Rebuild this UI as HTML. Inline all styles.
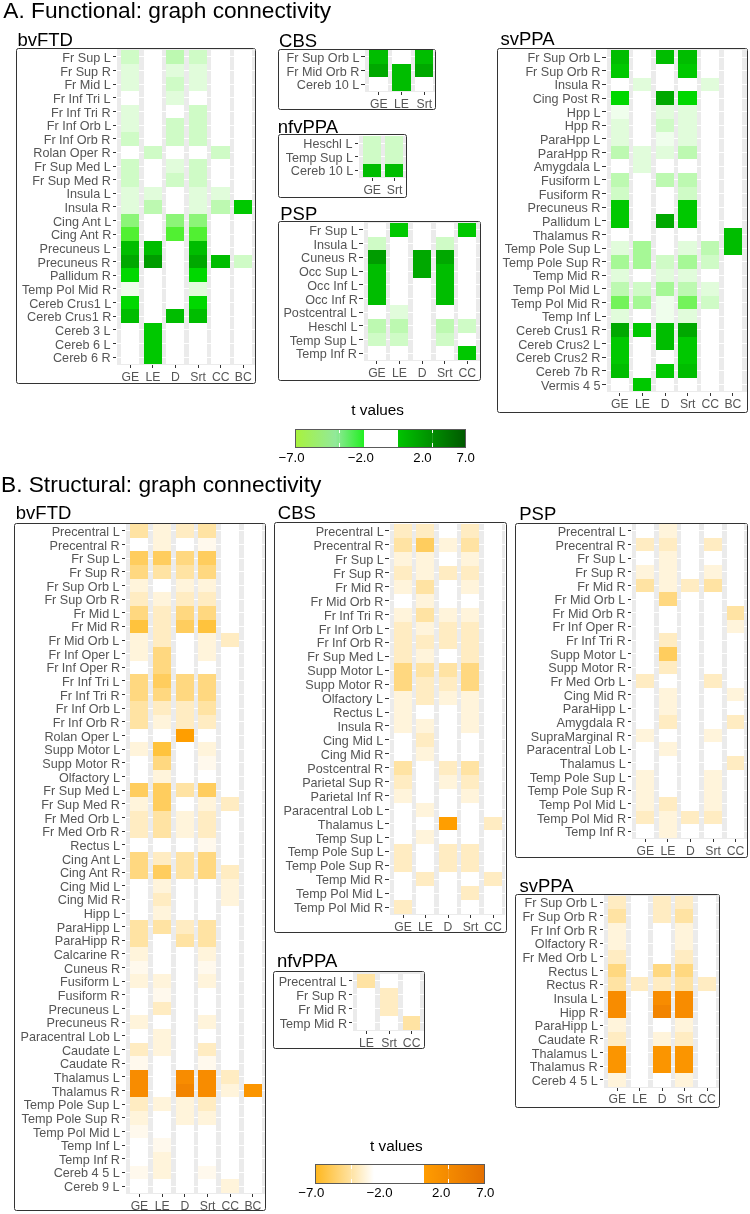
<!DOCTYPE html>
<html><head><meta charset="utf-8"><title>Graph connectivity</title><style>
html,body{margin:0;padding:0;background:#fff;}
body{width:750px;height:1214px;position:relative;overflow:hidden;font-family:"Liberation Sans",sans-serif;}
div{position:absolute;box-sizing:border-box;}
.t{white-space:nowrap;line-height:1;}
.rl{color:#555555;font-size:12.2px;text-align:right;transform:scaleX(1.036);transform-origin:100% 50%;}
.cl{color:#555555;font-size:12.2px;text-align:center;width:40px;}
.pt{color:#000;font-size:18.5px;}
.mt{color:#000;font-size:22.7px;}
.lt{color:#000;font-size:15.3px;}
.bx{border:1.4px solid #333333;border-radius:2.5px;}
.st{background:#ebebeb;}
.tk{background:#333333;}
.gl{background:#fff;}
#wrap{left:0;top:0;width:750px;height:1214px;will-change:transform;}
</style></head><body><div id="wrap">
<div class="t mt" style="left:3.3px;top:-1.22px">A. Functional: graph connectivity</div>
<div class="t mt" style="left:1px;top:472.78px">B. Structural: graph connectivity</div>
<div class="t pt" style="left:17.41px;top:31.34px">bvFTD</div>
<div class="bx" style="left:16.3px;top:48.1px;width:240px;height:336.2px"></div>
<div class="st" style="left:117px;top:49.4px;width:138px;height:315.75px"></div>
<div class="gl" style="left:117px;top:56px;width:138px;height:1px"></div>
<div class="gl" style="left:117px;top:70px;width:138px;height:1px"></div>
<div class="gl" style="left:117px;top:84px;width:138px;height:1px"></div>
<div class="gl" style="left:117px;top:97px;width:138px;height:1px"></div>
<div class="gl" style="left:117px;top:111px;width:138px;height:1px"></div>
<div class="gl" style="left:117px;top:125px;width:138px;height:1px"></div>
<div class="gl" style="left:117px;top:138px;width:138px;height:1px"></div>
<div class="gl" style="left:117px;top:152px;width:138px;height:1px"></div>
<div class="gl" style="left:117px;top:166px;width:138px;height:1px"></div>
<div class="gl" style="left:117px;top:179px;width:138px;height:1px"></div>
<div class="gl" style="left:117px;top:193px;width:138px;height:1px"></div>
<div class="gl" style="left:117px;top:206px;width:138px;height:1px"></div>
<div class="gl" style="left:117px;top:220px;width:138px;height:1px"></div>
<div class="gl" style="left:117px;top:234px;width:138px;height:1px"></div>
<div class="gl" style="left:117px;top:247px;width:138px;height:1px"></div>
<div class="gl" style="left:117px;top:261px;width:138px;height:1px"></div>
<div class="gl" style="left:117px;top:275px;width:138px;height:1px"></div>
<div class="gl" style="left:117px;top:288px;width:138px;height:1px"></div>
<div class="gl" style="left:117px;top:302px;width:138px;height:1px"></div>
<div class="gl" style="left:117px;top:316px;width:138px;height:1px"></div>
<div class="gl" style="left:117px;top:329px;width:138px;height:1px"></div>
<div class="gl" style="left:117px;top:343px;width:138px;height:1px"></div>
<div class="gl" style="left:117px;top:357px;width:138px;height:1px"></div>
<div style="left:121px;top:50px;width:18.2px;height:13.7px;background:#cffbc6"></div>
<div style="left:143.6px;top:50px;width:18.2px;height:13.7px;background:#ffffff"></div>
<div style="left:166.2px;top:50px;width:18.2px;height:13.7px;background:#bdf9b1"></div>
<div style="left:188.8px;top:50px;width:18.2px;height:13.7px;background:#cffbc6"></div>
<div style="left:211.4px;top:50px;width:18.2px;height:13.7px;background:#ffffff"></div>
<div style="left:234px;top:50px;width:18.2px;height:13.7px;background:#ffffff"></div>
<div class="tk" style="left:112.8px;top:56px;width:3.5px;height:1px"></div>
<div class="t rl" style="right:639.2px;top:51.9px">Fr Sup L</div>
<div style="left:121px;top:63.65px;width:18.2px;height:13.7px;background:#e1fcdb"></div>
<div style="left:143.6px;top:63.65px;width:18.2px;height:13.7px;background:#ffffff"></div>
<div style="left:166.2px;top:63.65px;width:18.2px;height:13.7px;background:#e1fcdb"></div>
<div style="left:188.8px;top:63.65px;width:18.2px;height:13.7px;background:#e1fcdb"></div>
<div style="left:211.4px;top:63.65px;width:18.2px;height:13.7px;background:#ffffff"></div>
<div style="left:234px;top:63.65px;width:18.2px;height:13.7px;background:#ffffff"></div>
<div class="tk" style="left:112.8px;top:70px;width:3.5px;height:1px"></div>
<div class="t rl" style="right:639.2px;top:65.55px">Fr Sup R</div>
<div style="left:121px;top:77.3px;width:18.2px;height:13.7px;background:#e1fcdb"></div>
<div style="left:143.6px;top:77.3px;width:18.2px;height:13.7px;background:#ffffff"></div>
<div style="left:166.2px;top:77.3px;width:18.2px;height:13.7px;background:#cffbc6"></div>
<div style="left:188.8px;top:77.3px;width:18.2px;height:13.7px;background:#e1fcdb"></div>
<div style="left:211.4px;top:77.3px;width:18.2px;height:13.7px;background:#ffffff"></div>
<div style="left:234px;top:77.3px;width:18.2px;height:13.7px;background:#ffffff"></div>
<div class="tk" style="left:112.8px;top:84px;width:3.5px;height:1px"></div>
<div class="t rl" style="right:639.2px;top:79.2px">Fr Mid L</div>
<div style="left:121px;top:90.95px;width:18.2px;height:13.7px;background:#ffffff"></div>
<div style="left:143.6px;top:90.95px;width:18.2px;height:13.7px;background:#ffffff"></div>
<div style="left:166.2px;top:90.95px;width:18.2px;height:13.7px;background:#e1fcdb"></div>
<div style="left:188.8px;top:90.95px;width:18.2px;height:13.7px;background:#ffffff"></div>
<div style="left:211.4px;top:90.95px;width:18.2px;height:13.7px;background:#ffffff"></div>
<div style="left:234px;top:90.95px;width:18.2px;height:13.7px;background:#ffffff"></div>
<div class="tk" style="left:112.8px;top:97px;width:3.5px;height:1px"></div>
<div class="t rl" style="right:639.2px;top:92.85px">Fr Inf Tri L</div>
<div style="left:121px;top:104.6px;width:18.2px;height:13.7px;background:#e1fcdb"></div>
<div style="left:143.6px;top:104.6px;width:18.2px;height:13.7px;background:#ffffff"></div>
<div style="left:166.2px;top:104.6px;width:18.2px;height:13.7px;background:#ffffff"></div>
<div style="left:188.8px;top:104.6px;width:18.2px;height:13.7px;background:#cffbc6"></div>
<div style="left:211.4px;top:104.6px;width:18.2px;height:13.7px;background:#ffffff"></div>
<div style="left:234px;top:104.6px;width:18.2px;height:13.7px;background:#ffffff"></div>
<div class="tk" style="left:112.8px;top:111px;width:3.5px;height:1px"></div>
<div class="t rl" style="right:639.2px;top:106.5px">Fr Inf Tri R</div>
<div style="left:121px;top:118.25px;width:18.2px;height:13.7px;background:#e1fcdb"></div>
<div style="left:143.6px;top:118.25px;width:18.2px;height:13.7px;background:#ffffff"></div>
<div style="left:166.2px;top:118.25px;width:18.2px;height:13.7px;background:#cffbc6"></div>
<div style="left:188.8px;top:118.25px;width:18.2px;height:13.7px;background:#cffbc6"></div>
<div style="left:211.4px;top:118.25px;width:18.2px;height:13.7px;background:#ffffff"></div>
<div style="left:234px;top:118.25px;width:18.2px;height:13.7px;background:#ffffff"></div>
<div class="tk" style="left:112.8px;top:125px;width:3.5px;height:1px"></div>
<div class="t rl" style="right:639.2px;top:120.15px">Fr Inf Orb L</div>
<div style="left:121px;top:131.9px;width:18.2px;height:13.7px;background:#cffbc6"></div>
<div style="left:143.6px;top:131.9px;width:18.2px;height:13.7px;background:#ffffff"></div>
<div style="left:166.2px;top:131.9px;width:18.2px;height:13.7px;background:#cffbc6"></div>
<div style="left:188.8px;top:131.9px;width:18.2px;height:13.7px;background:#cffbc6"></div>
<div style="left:211.4px;top:131.9px;width:18.2px;height:13.7px;background:#ffffff"></div>
<div style="left:234px;top:131.9px;width:18.2px;height:13.7px;background:#ffffff"></div>
<div class="tk" style="left:112.8px;top:138px;width:3.5px;height:1px"></div>
<div class="t rl" style="right:639.2px;top:133.8px">Fr Inf Orb R</div>
<div style="left:121px;top:145.55px;width:18.2px;height:13.7px;background:#ffffff"></div>
<div style="left:143.6px;top:145.55px;width:18.2px;height:13.7px;background:#cffbc6"></div>
<div style="left:166.2px;top:145.55px;width:18.2px;height:13.7px;background:#ffffff"></div>
<div style="left:188.8px;top:145.55px;width:18.2px;height:13.7px;background:#ffffff"></div>
<div style="left:211.4px;top:145.55px;width:18.2px;height:13.7px;background:#cffbc6"></div>
<div style="left:234px;top:145.55px;width:18.2px;height:13.7px;background:#ffffff"></div>
<div class="tk" style="left:112.8px;top:152px;width:3.5px;height:1px"></div>
<div class="t rl" style="right:639.2px;top:147.45px">Rolan Oper R</div>
<div style="left:121px;top:159.2px;width:18.2px;height:13.7px;background:#cffbc6"></div>
<div style="left:143.6px;top:159.2px;width:18.2px;height:13.7px;background:#ffffff"></div>
<div style="left:166.2px;top:159.2px;width:18.2px;height:13.7px;background:#e1fcdb"></div>
<div style="left:188.8px;top:159.2px;width:18.2px;height:13.7px;background:#cffbc6"></div>
<div style="left:211.4px;top:159.2px;width:18.2px;height:13.7px;background:#ffffff"></div>
<div style="left:234px;top:159.2px;width:18.2px;height:13.7px;background:#ffffff"></div>
<div class="tk" style="left:112.8px;top:166px;width:3.5px;height:1px"></div>
<div class="t rl" style="right:639.2px;top:161.1px">Fr Sup Med L</div>
<div style="left:121px;top:172.85px;width:18.2px;height:13.7px;background:#cffbc6"></div>
<div style="left:143.6px;top:172.85px;width:18.2px;height:13.7px;background:#ffffff"></div>
<div style="left:166.2px;top:172.85px;width:18.2px;height:13.7px;background:#cffbc6"></div>
<div style="left:188.8px;top:172.85px;width:18.2px;height:13.7px;background:#cffbc6"></div>
<div style="left:211.4px;top:172.85px;width:18.2px;height:13.7px;background:#ffffff"></div>
<div style="left:234px;top:172.85px;width:18.2px;height:13.7px;background:#ffffff"></div>
<div class="tk" style="left:112.8px;top:179px;width:3.5px;height:1px"></div>
<div class="t rl" style="right:639.2px;top:174.75px">Fr Sup Med R</div>
<div style="left:121px;top:186.5px;width:18.2px;height:13.7px;background:#e1fcdb"></div>
<div style="left:143.6px;top:186.5px;width:18.2px;height:13.7px;background:#e1fcdb"></div>
<div style="left:166.2px;top:186.5px;width:18.2px;height:13.7px;background:#ffffff"></div>
<div style="left:188.8px;top:186.5px;width:18.2px;height:13.7px;background:#e1fcdb"></div>
<div style="left:211.4px;top:186.5px;width:18.2px;height:13.7px;background:#e1fcdb"></div>
<div style="left:234px;top:186.5px;width:18.2px;height:13.7px;background:#ffffff"></div>
<div class="tk" style="left:112.8px;top:193px;width:3.5px;height:1px"></div>
<div class="t rl" style="right:639.2px;top:188.4px">Insula L</div>
<div style="left:121px;top:200.15px;width:18.2px;height:13.7px;background:#e1fcdb"></div>
<div style="left:143.6px;top:200.15px;width:18.2px;height:13.7px;background:#bdf9b1"></div>
<div style="left:166.2px;top:200.15px;width:18.2px;height:13.7px;background:#ffffff"></div>
<div style="left:188.8px;top:200.15px;width:18.2px;height:13.7px;background:#e1fcdb"></div>
<div style="left:211.4px;top:200.15px;width:18.2px;height:13.7px;background:#bdf9b1"></div>
<div style="left:234px;top:200.15px;width:18.2px;height:13.7px;background:#00c800"></div>
<div class="tk" style="left:112.8px;top:206px;width:3.5px;height:1px"></div>
<div class="t rl" style="right:639.2px;top:202.05px">Insula R</div>
<div style="left:121px;top:213.8px;width:18.2px;height:13.7px;background:#8cf578"></div>
<div style="left:143.6px;top:213.8px;width:18.2px;height:13.7px;background:#ffffff"></div>
<div style="left:166.2px;top:213.8px;width:18.2px;height:13.7px;background:#8cf578"></div>
<div style="left:188.8px;top:213.8px;width:18.2px;height:13.7px;background:#8cf578"></div>
<div style="left:211.4px;top:213.8px;width:18.2px;height:13.7px;background:#ffffff"></div>
<div style="left:234px;top:213.8px;width:18.2px;height:13.7px;background:#ffffff"></div>
<div class="tk" style="left:112.8px;top:220px;width:3.5px;height:1px"></div>
<div class="t rl" style="right:639.2px;top:215.7px">Cing Ant L</div>
<div style="left:121px;top:227.45px;width:18.2px;height:13.7px;background:#51f032"></div>
<div style="left:143.6px;top:227.45px;width:18.2px;height:13.7px;background:#ffffff"></div>
<div style="left:166.2px;top:227.45px;width:18.2px;height:13.7px;background:#51f032"></div>
<div style="left:188.8px;top:227.45px;width:18.2px;height:13.7px;background:#51f032"></div>
<div style="left:211.4px;top:227.45px;width:18.2px;height:13.7px;background:#ffffff"></div>
<div style="left:234px;top:227.45px;width:18.2px;height:13.7px;background:#ffffff"></div>
<div class="tk" style="left:112.8px;top:234px;width:3.5px;height:1px"></div>
<div class="t rl" style="right:639.2px;top:229.35px">Cing Ant R</div>
<div style="left:121px;top:241.1px;width:18.2px;height:13.7px;background:#00bd00"></div>
<div style="left:143.6px;top:241.1px;width:18.2px;height:13.7px;background:#00bd00"></div>
<div style="left:166.2px;top:241.1px;width:18.2px;height:13.7px;background:#ffffff"></div>
<div style="left:188.8px;top:241.1px;width:18.2px;height:13.7px;background:#00bd00"></div>
<div style="left:211.4px;top:241.1px;width:18.2px;height:13.7px;background:#ffffff"></div>
<div style="left:234px;top:241.1px;width:18.2px;height:13.7px;background:#ffffff"></div>
<div class="tk" style="left:112.8px;top:247px;width:3.5px;height:1px"></div>
<div class="t rl" style="right:639.2px;top:243px">Precuneus L</div>
<div style="left:121px;top:254.75px;width:18.2px;height:13.7px;background:#00a800"></div>
<div style="left:143.6px;top:254.75px;width:18.2px;height:13.7px;background:#009c00"></div>
<div style="left:166.2px;top:254.75px;width:18.2px;height:13.7px;background:#ffffff"></div>
<div style="left:188.8px;top:254.75px;width:18.2px;height:13.7px;background:#00a800"></div>
<div style="left:211.4px;top:254.75px;width:18.2px;height:13.7px;background:#00bd00"></div>
<div style="left:234px;top:254.75px;width:18.2px;height:13.7px;background:#cffbc6"></div>
<div class="tk" style="left:112.8px;top:261px;width:3.5px;height:1px"></div>
<div class="t rl" style="right:639.2px;top:256.65px">Precuneus R</div>
<div style="left:121px;top:268.4px;width:18.2px;height:13.7px;background:#00d800"></div>
<div style="left:143.6px;top:268.4px;width:18.2px;height:13.7px;background:#ffffff"></div>
<div style="left:166.2px;top:268.4px;width:18.2px;height:13.7px;background:#ffffff"></div>
<div style="left:188.8px;top:268.4px;width:18.2px;height:13.7px;background:#00d800"></div>
<div style="left:211.4px;top:268.4px;width:18.2px;height:13.7px;background:#ffffff"></div>
<div style="left:234px;top:268.4px;width:18.2px;height:13.7px;background:#ffffff"></div>
<div class="tk" style="left:112.8px;top:275px;width:3.5px;height:1px"></div>
<div class="t rl" style="right:639.2px;top:270.3px">Pallidum R</div>
<div style="left:121px;top:282.05px;width:18.2px;height:13.7px;background:#effeec"></div>
<div style="left:143.6px;top:282.05px;width:18.2px;height:13.7px;background:#ffffff"></div>
<div style="left:166.2px;top:282.05px;width:18.2px;height:13.7px;background:#ffffff"></div>
<div style="left:188.8px;top:282.05px;width:18.2px;height:13.7px;background:#e1fcdb"></div>
<div style="left:211.4px;top:282.05px;width:18.2px;height:13.7px;background:#ffffff"></div>
<div style="left:234px;top:282.05px;width:18.2px;height:13.7px;background:#ffffff"></div>
<div class="tk" style="left:112.8px;top:288px;width:3.5px;height:1px"></div>
<div class="t rl" style="right:639.2px;top:283.95px">Temp Pol Mid R</div>
<div style="left:121px;top:295.7px;width:18.2px;height:13.7px;background:#00d800"></div>
<div style="left:143.6px;top:295.7px;width:18.2px;height:13.7px;background:#ffffff"></div>
<div style="left:166.2px;top:295.7px;width:18.2px;height:13.7px;background:#ffffff"></div>
<div style="left:188.8px;top:295.7px;width:18.2px;height:13.7px;background:#00d800"></div>
<div style="left:211.4px;top:295.7px;width:18.2px;height:13.7px;background:#ffffff"></div>
<div style="left:234px;top:295.7px;width:18.2px;height:13.7px;background:#ffffff"></div>
<div class="tk" style="left:112.8px;top:302px;width:3.5px;height:1px"></div>
<div class="t rl" style="right:639.2px;top:297.6px">Cereb Crus1 L</div>
<div style="left:121px;top:309.35px;width:18.2px;height:13.7px;background:#00bd00"></div>
<div style="left:143.6px;top:309.35px;width:18.2px;height:13.7px;background:#ffffff"></div>
<div style="left:166.2px;top:309.35px;width:18.2px;height:13.7px;background:#00bd00"></div>
<div style="left:188.8px;top:309.35px;width:18.2px;height:13.7px;background:#00bd00"></div>
<div style="left:211.4px;top:309.35px;width:18.2px;height:13.7px;background:#ffffff"></div>
<div style="left:234px;top:309.35px;width:18.2px;height:13.7px;background:#ffffff"></div>
<div class="tk" style="left:112.8px;top:316px;width:3.5px;height:1px"></div>
<div class="t rl" style="right:639.2px;top:311.25px">Cereb Crus1 R</div>
<div style="left:121px;top:323px;width:18.2px;height:13.7px;background:#ffffff"></div>
<div style="left:143.6px;top:323px;width:18.2px;height:13.7px;background:#00c800"></div>
<div style="left:166.2px;top:323px;width:18.2px;height:13.7px;background:#ffffff"></div>
<div style="left:188.8px;top:323px;width:18.2px;height:13.7px;background:#ffffff"></div>
<div style="left:211.4px;top:323px;width:18.2px;height:13.7px;background:#ffffff"></div>
<div style="left:234px;top:323px;width:18.2px;height:13.7px;background:#ffffff"></div>
<div class="tk" style="left:112.8px;top:329px;width:3.5px;height:1px"></div>
<div class="t rl" style="right:639.2px;top:324.9px">Cereb 3 L</div>
<div style="left:121px;top:336.65px;width:18.2px;height:13.7px;background:#ffffff"></div>
<div style="left:143.6px;top:336.65px;width:18.2px;height:13.7px;background:#00c800"></div>
<div style="left:166.2px;top:336.65px;width:18.2px;height:13.7px;background:#ffffff"></div>
<div style="left:188.8px;top:336.65px;width:18.2px;height:13.7px;background:#ffffff"></div>
<div style="left:211.4px;top:336.65px;width:18.2px;height:13.7px;background:#ffffff"></div>
<div style="left:234px;top:336.65px;width:18.2px;height:13.7px;background:#ffffff"></div>
<div class="tk" style="left:112.8px;top:343px;width:3.5px;height:1px"></div>
<div class="t rl" style="right:639.2px;top:338.55px">Cereb 6 L</div>
<div style="left:121px;top:350.3px;width:18.2px;height:13.7px;background:#ffffff"></div>
<div style="left:143.6px;top:350.3px;width:18.2px;height:13.7px;background:#00c800"></div>
<div style="left:166.2px;top:350.3px;width:18.2px;height:13.7px;background:#ffffff"></div>
<div style="left:188.8px;top:350.3px;width:18.2px;height:13.7px;background:#ffffff"></div>
<div style="left:211.4px;top:350.3px;width:18.2px;height:13.7px;background:#ffffff"></div>
<div style="left:234px;top:350.3px;width:18.2px;height:13.7px;background:#ffffff"></div>
<div class="tk" style="left:112.8px;top:357px;width:3.5px;height:1px"></div>
<div class="t rl" style="right:639.2px;top:352.2px">Cereb 6 R</div>
<div class="tk" style="left:130px;top:365.15px;width:1px;height:3px"></div>
<div class="t cl" style="left:110.3px;top:370.62px;width:40px;text-align:center">GE</div>
<div class="tk" style="left:152px;top:365.15px;width:1px;height:3px"></div>
<div class="t cl" style="left:132.9px;top:370.62px;width:40px;text-align:center">LE</div>
<div class="tk" style="left:175px;top:365.15px;width:1px;height:3px"></div>
<div class="t cl" style="left:155.5px;top:370.62px;width:40px;text-align:center">D</div>
<div class="tk" style="left:198px;top:365.15px;width:1px;height:3px"></div>
<div class="t cl" style="left:178.1px;top:370.62px;width:40px;text-align:center">Srt</div>
<div class="tk" style="left:220px;top:365.15px;width:1px;height:3px"></div>
<div class="t cl" style="left:200.7px;top:370.62px;width:40px;text-align:center">CC</div>
<div class="tk" style="left:243px;top:365.15px;width:1px;height:3px"></div>
<div class="t cl" style="left:223.3px;top:370.62px;width:40px;text-align:center">BC</div>
<div class="t pt" style="left:279.06px;top:31.64px">CBS</div>
<div class="bx" style="left:277.7px;top:48.7px;width:158.7px;height:60.9px"></div>
<div class="st" style="left:365.4px;top:50px;width:69.7px;height:42.21px"></div>
<div class="gl" style="left:365.4px;top:56px;width:69.7px;height:1px"></div>
<div class="gl" style="left:365.4px;top:70px;width:69.7px;height:1px"></div>
<div class="gl" style="left:365.4px;top:84px;width:69.7px;height:1px"></div>
<div style="left:369.3px;top:50px;width:18.5px;height:13.72px;background:#00bd00"></div>
<div style="left:392.1px;top:50px;width:18.5px;height:13.72px;background:#ffffff"></div>
<div style="left:414.9px;top:50px;width:18.5px;height:13.72px;background:#00bd00"></div>
<div class="tk" style="left:361.2px;top:56px;width:3.5px;height:1px"></div>
<div class="t rl" style="right:390.8px;top:51.91px">Fr Sup Orb L</div>
<div style="left:369.3px;top:63.67px;width:18.5px;height:13.72px;background:#00a800"></div>
<div style="left:392.1px;top:63.67px;width:18.5px;height:13.72px;background:#00bd00"></div>
<div style="left:414.9px;top:63.67px;width:18.5px;height:13.72px;background:#00a800"></div>
<div class="tk" style="left:361.2px;top:70px;width:3.5px;height:1px"></div>
<div class="t rl" style="right:390.8px;top:65.58px">Fr Mid Orb R</div>
<div style="left:369.3px;top:77.34px;width:18.5px;height:13.72px;background:#ffffff"></div>
<div style="left:392.1px;top:77.34px;width:18.5px;height:13.72px;background:#00bd00"></div>
<div style="left:414.9px;top:77.34px;width:18.5px;height:13.72px;background:#ffffff"></div>
<div class="tk" style="left:361.2px;top:84px;width:3.5px;height:1px"></div>
<div class="t rl" style="right:390.8px;top:79.25px">Cereb 10 L</div>
<div class="tk" style="left:378px;top:92.21px;width:1px;height:3px"></div>
<div class="t cl" style="left:358.75px;top:97.68px;width:40px;text-align:center">GE</div>
<div class="tk" style="left:401px;top:92.21px;width:1px;height:3px"></div>
<div class="t cl" style="left:381.55px;top:97.68px;width:40px;text-align:center">LE</div>
<div class="tk" style="left:424px;top:92.21px;width:1px;height:3px"></div>
<div class="t cl" style="left:404.35px;top:97.68px;width:40px;text-align:center">Srt</div>
<div class="t pt" style="left:277.77px;top:117.54px">nfvPPA</div>
<div class="bx" style="left:277.7px;top:134.2px;width:129.8px;height:63.4px"></div>
<div class="st" style="left:359px;top:135.5px;width:47.2px;height:42.85px"></div>
<div class="gl" style="left:359px;top:143px;width:47.2px;height:1px"></div>
<div class="gl" style="left:359px;top:156px;width:47.2px;height:1px"></div>
<div class="gl" style="left:359px;top:170px;width:47.2px;height:1px"></div>
<div style="left:363px;top:136.2px;width:18px;height:13.7px;background:#cffbc6"></div>
<div style="left:385.4px;top:136.2px;width:18px;height:13.7px;background:#cffbc6"></div>
<div class="tk" style="left:354.8px;top:143px;width:3.5px;height:1px"></div>
<div class="t rl" style="right:397.2px;top:138.1px">Heschl L</div>
<div style="left:363px;top:149.85px;width:18px;height:13.7px;background:#cffbc6"></div>
<div style="left:385.4px;top:149.85px;width:18px;height:13.7px;background:#cffbc6"></div>
<div class="tk" style="left:354.8px;top:156px;width:3.5px;height:1px"></div>
<div class="t rl" style="right:397.2px;top:151.75px">Temp Sup L</div>
<div style="left:363px;top:163.5px;width:18px;height:13.7px;background:#00bd00"></div>
<div style="left:385.4px;top:163.5px;width:18px;height:13.7px;background:#00bd00"></div>
<div class="tk" style="left:354.8px;top:170px;width:3.5px;height:1px"></div>
<div class="t rl" style="right:397.2px;top:165.4px">Cereb 10 L</div>
<div class="tk" style="left:372px;top:178.35px;width:1px;height:3px"></div>
<div class="t cl" style="left:352.2px;top:183.82px;width:40px;text-align:center">GE</div>
<div class="tk" style="left:394px;top:178.35px;width:1px;height:3px"></div>
<div class="t cl" style="left:374.6px;top:183.82px;width:40px;text-align:center">Srt</div>
<div class="t pt" style="left:280.28px;top:205.14px">PSP</div>
<div class="bx" style="left:277.5px;top:221px;width:203.8px;height:159.5px"></div>
<div class="st" style="left:363.6px;top:222.3px;width:116.4px;height:139.1px"></div>
<div class="gl" style="left:363.6px;top:229px;width:116.4px;height:1px"></div>
<div class="gl" style="left:363.6px;top:243px;width:116.4px;height:1px"></div>
<div class="gl" style="left:363.6px;top:257px;width:116.4px;height:1px"></div>
<div class="gl" style="left:363.6px;top:271px;width:116.4px;height:1px"></div>
<div class="gl" style="left:363.6px;top:284px;width:116.4px;height:1px"></div>
<div class="gl" style="left:363.6px;top:298px;width:116.4px;height:1px"></div>
<div class="gl" style="left:363.6px;top:312px;width:116.4px;height:1px"></div>
<div class="gl" style="left:363.6px;top:325px;width:116.4px;height:1px"></div>
<div class="gl" style="left:363.6px;top:339px;width:116.4px;height:1px"></div>
<div class="gl" style="left:363.6px;top:353px;width:116.4px;height:1px"></div>
<div style="left:367.7px;top:223px;width:18.1px;height:13.77px;background:#ffffff"></div>
<div style="left:390.3px;top:223px;width:18.1px;height:13.77px;background:#00c800"></div>
<div style="left:412.9px;top:223px;width:18.1px;height:13.77px;background:#ffffff"></div>
<div style="left:435.5px;top:223px;width:18.1px;height:13.77px;background:#ffffff"></div>
<div style="left:458.1px;top:223px;width:18.1px;height:13.77px;background:#00c800"></div>
<div class="tk" style="left:359.4px;top:229px;width:3.5px;height:1px"></div>
<div class="t rl" style="right:392.6px;top:224.93px">Fr Sup L</div>
<div style="left:367.7px;top:236.72px;width:18.1px;height:13.77px;background:#cffbc6"></div>
<div style="left:390.3px;top:236.72px;width:18.1px;height:13.77px;background:#ffffff"></div>
<div style="left:412.9px;top:236.72px;width:18.1px;height:13.77px;background:#ffffff"></div>
<div style="left:435.5px;top:236.72px;width:18.1px;height:13.77px;background:#cffbc6"></div>
<div style="left:458.1px;top:236.72px;width:18.1px;height:13.77px;background:#ffffff"></div>
<div class="tk" style="left:359.4px;top:243px;width:3.5px;height:1px"></div>
<div class="t rl" style="right:392.6px;top:238.65px">Insula L</div>
<div style="left:367.7px;top:250.44px;width:18.1px;height:13.77px;background:#009c00"></div>
<div style="left:390.3px;top:250.44px;width:18.1px;height:13.77px;background:#ffffff"></div>
<div style="left:412.9px;top:250.44px;width:18.1px;height:13.77px;background:#00a800"></div>
<div style="left:435.5px;top:250.44px;width:18.1px;height:13.77px;background:#00a800"></div>
<div style="left:458.1px;top:250.44px;width:18.1px;height:13.77px;background:#ffffff"></div>
<div class="tk" style="left:359.4px;top:257px;width:3.5px;height:1px"></div>
<div class="t rl" style="right:392.6px;top:252.37px">Cuneus R</div>
<div style="left:367.7px;top:264.16px;width:18.1px;height:13.77px;background:#00bd00"></div>
<div style="left:390.3px;top:264.16px;width:18.1px;height:13.77px;background:#ffffff"></div>
<div style="left:412.9px;top:264.16px;width:18.1px;height:13.77px;background:#00a800"></div>
<div style="left:435.5px;top:264.16px;width:18.1px;height:13.77px;background:#00bd00"></div>
<div style="left:458.1px;top:264.16px;width:18.1px;height:13.77px;background:#ffffff"></div>
<div class="tk" style="left:359.4px;top:271px;width:3.5px;height:1px"></div>
<div class="t rl" style="right:392.6px;top:266.09px">Occ Sup L</div>
<div style="left:367.7px;top:277.88px;width:18.1px;height:13.77px;background:#00bd00"></div>
<div style="left:390.3px;top:277.88px;width:18.1px;height:13.77px;background:#ffffff"></div>
<div style="left:412.9px;top:277.88px;width:18.1px;height:13.77px;background:#ffffff"></div>
<div style="left:435.5px;top:277.88px;width:18.1px;height:13.77px;background:#00bd00"></div>
<div style="left:458.1px;top:277.88px;width:18.1px;height:13.77px;background:#ffffff"></div>
<div class="tk" style="left:359.4px;top:284px;width:3.5px;height:1px"></div>
<div class="t rl" style="right:392.6px;top:279.81px">Occ Inf L</div>
<div style="left:367.7px;top:291.6px;width:18.1px;height:13.77px;background:#00bd00"></div>
<div style="left:390.3px;top:291.6px;width:18.1px;height:13.77px;background:#ffffff"></div>
<div style="left:412.9px;top:291.6px;width:18.1px;height:13.77px;background:#ffffff"></div>
<div style="left:435.5px;top:291.6px;width:18.1px;height:13.77px;background:#00bd00"></div>
<div style="left:458.1px;top:291.6px;width:18.1px;height:13.77px;background:#ffffff"></div>
<div class="tk" style="left:359.4px;top:298px;width:3.5px;height:1px"></div>
<div class="t rl" style="right:392.6px;top:293.53px">Occ Inf R</div>
<div style="left:367.7px;top:305.32px;width:18.1px;height:13.77px;background:#ffffff"></div>
<div style="left:390.3px;top:305.32px;width:18.1px;height:13.77px;background:#e1fcdb"></div>
<div style="left:412.9px;top:305.32px;width:18.1px;height:13.77px;background:#ffffff"></div>
<div style="left:435.5px;top:305.32px;width:18.1px;height:13.77px;background:#ffffff"></div>
<div style="left:458.1px;top:305.32px;width:18.1px;height:13.77px;background:#ffffff"></div>
<div class="tk" style="left:359.4px;top:312px;width:3.5px;height:1px"></div>
<div class="t rl" style="right:392.6px;top:307.25px">Postcentral L</div>
<div style="left:367.7px;top:319.04px;width:18.1px;height:13.77px;background:#bdf9b1"></div>
<div style="left:390.3px;top:319.04px;width:18.1px;height:13.77px;background:#bdf9b1"></div>
<div style="left:412.9px;top:319.04px;width:18.1px;height:13.77px;background:#ffffff"></div>
<div style="left:435.5px;top:319.04px;width:18.1px;height:13.77px;background:#bdf9b1"></div>
<div style="left:458.1px;top:319.04px;width:18.1px;height:13.77px;background:#cffbc6"></div>
<div class="tk" style="left:359.4px;top:325px;width:3.5px;height:1px"></div>
<div class="t rl" style="right:392.6px;top:320.97px">Heschl L</div>
<div style="left:367.7px;top:332.76px;width:18.1px;height:13.77px;background:#cffbc6"></div>
<div style="left:390.3px;top:332.76px;width:18.1px;height:13.77px;background:#cffbc6"></div>
<div style="left:412.9px;top:332.76px;width:18.1px;height:13.77px;background:#ffffff"></div>
<div style="left:435.5px;top:332.76px;width:18.1px;height:13.77px;background:#cffbc6"></div>
<div style="left:458.1px;top:332.76px;width:18.1px;height:13.77px;background:#ffffff"></div>
<div class="tk" style="left:359.4px;top:339px;width:3.5px;height:1px"></div>
<div class="t rl" style="right:392.6px;top:334.69px">Temp Sup L</div>
<div style="left:367.7px;top:346.48px;width:18.1px;height:13.77px;background:#ffffff"></div>
<div style="left:390.3px;top:346.48px;width:18.1px;height:13.77px;background:#ffffff"></div>
<div style="left:412.9px;top:346.48px;width:18.1px;height:13.77px;background:#ffffff"></div>
<div style="left:435.5px;top:346.48px;width:18.1px;height:13.77px;background:#ffffff"></div>
<div style="left:458.1px;top:346.48px;width:18.1px;height:13.77px;background:#00c800"></div>
<div class="tk" style="left:359.4px;top:353px;width:3.5px;height:1px"></div>
<div class="t rl" style="right:392.6px;top:348.41px">Temp Inf R</div>
<div class="tk" style="left:376px;top:361.4px;width:1px;height:3px"></div>
<div class="t cl" style="left:356.95px;top:366.87px;width:40px;text-align:center">GE</div>
<div class="tk" style="left:399px;top:361.4px;width:1px;height:3px"></div>
<div class="t cl" style="left:379.55px;top:366.87px;width:40px;text-align:center">LE</div>
<div class="tk" style="left:422px;top:361.4px;width:1px;height:3px"></div>
<div class="t cl" style="left:402.15px;top:366.87px;width:40px;text-align:center">D</div>
<div class="tk" style="left:444px;top:361.4px;width:1px;height:3px"></div>
<div class="t cl" style="left:424.75px;top:366.87px;width:40px;text-align:center">Srt</div>
<div class="tk" style="left:467px;top:361.4px;width:1px;height:3px"></div>
<div class="t cl" style="left:447.35px;top:366.87px;width:40px;text-align:center">CC</div>
<div class="t pt" style="left:500.39px;top:30.14px">svPPA</div>
<div class="bx" style="left:496.9px;top:47.6px;width:251.1px;height:365.1px"></div>
<div class="st" style="left:606.6px;top:48.9px;width:140.1px;height:343.6px"></div>
<div class="gl" style="left:606.6px;top:57px;width:140.1px;height:1px"></div>
<div class="gl" style="left:606.6px;top:70px;width:140.1px;height:1px"></div>
<div class="gl" style="left:606.6px;top:84px;width:140.1px;height:1px"></div>
<div class="gl" style="left:606.6px;top:98px;width:140.1px;height:1px"></div>
<div class="gl" style="left:606.6px;top:111px;width:140.1px;height:1px"></div>
<div class="gl" style="left:606.6px;top:125px;width:140.1px;height:1px"></div>
<div class="gl" style="left:606.6px;top:138px;width:140.1px;height:1px"></div>
<div class="gl" style="left:606.6px;top:152px;width:140.1px;height:1px"></div>
<div class="gl" style="left:606.6px;top:166px;width:140.1px;height:1px"></div>
<div class="gl" style="left:606.6px;top:179px;width:140.1px;height:1px"></div>
<div class="gl" style="left:606.6px;top:193px;width:140.1px;height:1px"></div>
<div class="gl" style="left:606.6px;top:207px;width:140.1px;height:1px"></div>
<div class="gl" style="left:606.6px;top:220px;width:140.1px;height:1px"></div>
<div class="gl" style="left:606.6px;top:234px;width:140.1px;height:1px"></div>
<div class="gl" style="left:606.6px;top:248px;width:140.1px;height:1px"></div>
<div class="gl" style="left:606.6px;top:261px;width:140.1px;height:1px"></div>
<div class="gl" style="left:606.6px;top:275px;width:140.1px;height:1px"></div>
<div class="gl" style="left:606.6px;top:288px;width:140.1px;height:1px"></div>
<div class="gl" style="left:606.6px;top:302px;width:140.1px;height:1px"></div>
<div class="gl" style="left:606.6px;top:316px;width:140.1px;height:1px"></div>
<div class="gl" style="left:606.6px;top:329px;width:140.1px;height:1px"></div>
<div class="gl" style="left:606.6px;top:343px;width:140.1px;height:1px"></div>
<div class="gl" style="left:606.6px;top:357px;width:140.1px;height:1px"></div>
<div class="gl" style="left:606.6px;top:370px;width:140.1px;height:1px"></div>
<div class="gl" style="left:606.6px;top:384px;width:140.1px;height:1px"></div>
<div style="left:610.6px;top:50.3px;width:18.2px;height:13.69px;background:#00bd00"></div>
<div style="left:633.2px;top:50.3px;width:18.2px;height:13.69px;background:#ffffff"></div>
<div style="left:655.8px;top:50.3px;width:18.2px;height:13.69px;background:#00bd00"></div>
<div style="left:678.4px;top:50.3px;width:18.2px;height:13.69px;background:#00bd00"></div>
<div style="left:701px;top:50.3px;width:18.2px;height:13.69px;background:#ffffff"></div>
<div style="left:723.6px;top:50.3px;width:18.2px;height:13.69px;background:#ffffff"></div>
<div class="tk" style="left:602.4px;top:57px;width:3.5px;height:1px"></div>
<div class="t rl" style="right:149.6px;top:52.19px">Fr Sup Orb L</div>
<div style="left:610.6px;top:63.94px;width:18.2px;height:13.69px;background:#00c800"></div>
<div style="left:633.2px;top:63.94px;width:18.2px;height:13.69px;background:#ffffff"></div>
<div style="left:655.8px;top:63.94px;width:18.2px;height:13.69px;background:#ffffff"></div>
<div style="left:678.4px;top:63.94px;width:18.2px;height:13.69px;background:#00c800"></div>
<div style="left:701px;top:63.94px;width:18.2px;height:13.69px;background:#ffffff"></div>
<div style="left:723.6px;top:63.94px;width:18.2px;height:13.69px;background:#ffffff"></div>
<div class="tk" style="left:602.4px;top:70px;width:3.5px;height:1px"></div>
<div class="t rl" style="right:149.6px;top:65.83px">Fr Sup Orb R</div>
<div style="left:610.6px;top:77.58px;width:18.2px;height:13.69px;background:#ffffff"></div>
<div style="left:633.2px;top:77.58px;width:18.2px;height:13.69px;background:#e1fcdb"></div>
<div style="left:655.8px;top:77.58px;width:18.2px;height:13.69px;background:#ffffff"></div>
<div style="left:678.4px;top:77.58px;width:18.2px;height:13.69px;background:#ffffff"></div>
<div style="left:701px;top:77.58px;width:18.2px;height:13.69px;background:#e1fcdb"></div>
<div style="left:723.6px;top:77.58px;width:18.2px;height:13.69px;background:#ffffff"></div>
<div class="tk" style="left:602.4px;top:84px;width:3.5px;height:1px"></div>
<div class="t rl" style="right:149.6px;top:79.47px">Insula R</div>
<div style="left:610.6px;top:91.22px;width:18.2px;height:13.69px;background:#00d800"></div>
<div style="left:633.2px;top:91.22px;width:18.2px;height:13.69px;background:#ffffff"></div>
<div style="left:655.8px;top:91.22px;width:18.2px;height:13.69px;background:#00a800"></div>
<div style="left:678.4px;top:91.22px;width:18.2px;height:13.69px;background:#00d800"></div>
<div style="left:701px;top:91.22px;width:18.2px;height:13.69px;background:#ffffff"></div>
<div style="left:723.6px;top:91.22px;width:18.2px;height:13.69px;background:#ffffff"></div>
<div class="tk" style="left:602.4px;top:98px;width:3.5px;height:1px"></div>
<div class="t rl" style="right:149.6px;top:93.11px">Cing Post R</div>
<div style="left:610.6px;top:104.86px;width:18.2px;height:13.69px;background:#effeec"></div>
<div style="left:633.2px;top:104.86px;width:18.2px;height:13.69px;background:#ffffff"></div>
<div style="left:655.8px;top:104.86px;width:18.2px;height:13.69px;background:#e1fcdb"></div>
<div style="left:678.4px;top:104.86px;width:18.2px;height:13.69px;background:#e1fcdb"></div>
<div style="left:701px;top:104.86px;width:18.2px;height:13.69px;background:#ffffff"></div>
<div style="left:723.6px;top:104.86px;width:18.2px;height:13.69px;background:#ffffff"></div>
<div class="tk" style="left:602.4px;top:111px;width:3.5px;height:1px"></div>
<div class="t rl" style="right:149.6px;top:106.75px">Hpp L</div>
<div style="left:610.6px;top:118.5px;width:18.2px;height:13.69px;background:#e1fcdb"></div>
<div style="left:633.2px;top:118.5px;width:18.2px;height:13.69px;background:#ffffff"></div>
<div style="left:655.8px;top:118.5px;width:18.2px;height:13.69px;background:#cffbc6"></div>
<div style="left:678.4px;top:118.5px;width:18.2px;height:13.69px;background:#e1fcdb"></div>
<div style="left:701px;top:118.5px;width:18.2px;height:13.69px;background:#ffffff"></div>
<div style="left:723.6px;top:118.5px;width:18.2px;height:13.69px;background:#ffffff"></div>
<div class="tk" style="left:602.4px;top:125px;width:3.5px;height:1px"></div>
<div class="t rl" style="right:149.6px;top:120.39px">Hpp R</div>
<div style="left:610.6px;top:132.14px;width:18.2px;height:13.69px;background:#e1fcdb"></div>
<div style="left:633.2px;top:132.14px;width:18.2px;height:13.69px;background:#ffffff"></div>
<div style="left:655.8px;top:132.14px;width:18.2px;height:13.69px;background:#effeec"></div>
<div style="left:678.4px;top:132.14px;width:18.2px;height:13.69px;background:#e1fcdb"></div>
<div style="left:701px;top:132.14px;width:18.2px;height:13.69px;background:#ffffff"></div>
<div style="left:723.6px;top:132.14px;width:18.2px;height:13.69px;background:#ffffff"></div>
<div class="tk" style="left:602.4px;top:138px;width:3.5px;height:1px"></div>
<div class="t rl" style="right:149.6px;top:134.03px">ParaHpp L</div>
<div style="left:610.6px;top:145.78px;width:18.2px;height:13.69px;background:#bdf9b1"></div>
<div style="left:633.2px;top:145.78px;width:18.2px;height:13.69px;background:#e1fcdb"></div>
<div style="left:655.8px;top:145.78px;width:18.2px;height:13.69px;background:#e1fcdb"></div>
<div style="left:678.4px;top:145.78px;width:18.2px;height:13.69px;background:#bdf9b1"></div>
<div style="left:701px;top:145.78px;width:18.2px;height:13.69px;background:#ffffff"></div>
<div style="left:723.6px;top:145.78px;width:18.2px;height:13.69px;background:#ffffff"></div>
<div class="tk" style="left:602.4px;top:152px;width:3.5px;height:1px"></div>
<div class="t rl" style="right:149.6px;top:147.67px">ParaHpp R</div>
<div style="left:610.6px;top:159.42px;width:18.2px;height:13.69px;background:#ffffff"></div>
<div style="left:633.2px;top:159.42px;width:18.2px;height:13.69px;background:#e1fcdb"></div>
<div style="left:655.8px;top:159.42px;width:18.2px;height:13.69px;background:#ffffff"></div>
<div style="left:678.4px;top:159.42px;width:18.2px;height:13.69px;background:#ffffff"></div>
<div style="left:701px;top:159.42px;width:18.2px;height:13.69px;background:#ffffff"></div>
<div style="left:723.6px;top:159.42px;width:18.2px;height:13.69px;background:#ffffff"></div>
<div class="tk" style="left:602.4px;top:166px;width:3.5px;height:1px"></div>
<div class="t rl" style="right:149.6px;top:161.31px">Amygdala L</div>
<div style="left:610.6px;top:173.06px;width:18.2px;height:13.69px;background:#bdf9b1"></div>
<div style="left:633.2px;top:173.06px;width:18.2px;height:13.69px;background:#ffffff"></div>
<div style="left:655.8px;top:173.06px;width:18.2px;height:13.69px;background:#bdf9b1"></div>
<div style="left:678.4px;top:173.06px;width:18.2px;height:13.69px;background:#bdf9b1"></div>
<div style="left:701px;top:173.06px;width:18.2px;height:13.69px;background:#ffffff"></div>
<div style="left:723.6px;top:173.06px;width:18.2px;height:13.69px;background:#ffffff"></div>
<div class="tk" style="left:602.4px;top:179px;width:3.5px;height:1px"></div>
<div class="t rl" style="right:149.6px;top:174.95px">Fusiform L</div>
<div style="left:610.6px;top:186.7px;width:18.2px;height:13.69px;background:#cffbc6"></div>
<div style="left:633.2px;top:186.7px;width:18.2px;height:13.69px;background:#ffffff"></div>
<div style="left:655.8px;top:186.7px;width:18.2px;height:13.69px;background:#ffffff"></div>
<div style="left:678.4px;top:186.7px;width:18.2px;height:13.69px;background:#cffbc6"></div>
<div style="left:701px;top:186.7px;width:18.2px;height:13.69px;background:#ffffff"></div>
<div style="left:723.6px;top:186.7px;width:18.2px;height:13.69px;background:#ffffff"></div>
<div class="tk" style="left:602.4px;top:193px;width:3.5px;height:1px"></div>
<div class="t rl" style="right:149.6px;top:188.59px">Fusiform R</div>
<div style="left:610.6px;top:200.34px;width:18.2px;height:13.69px;background:#00c800"></div>
<div style="left:633.2px;top:200.34px;width:18.2px;height:13.69px;background:#ffffff"></div>
<div style="left:655.8px;top:200.34px;width:18.2px;height:13.69px;background:#ffffff"></div>
<div style="left:678.4px;top:200.34px;width:18.2px;height:13.69px;background:#00c800"></div>
<div style="left:701px;top:200.34px;width:18.2px;height:13.69px;background:#ffffff"></div>
<div style="left:723.6px;top:200.34px;width:18.2px;height:13.69px;background:#ffffff"></div>
<div class="tk" style="left:602.4px;top:207px;width:3.5px;height:1px"></div>
<div class="t rl" style="right:149.6px;top:202.23px">Precuneus R</div>
<div style="left:610.6px;top:213.98px;width:18.2px;height:13.69px;background:#00c800"></div>
<div style="left:633.2px;top:213.98px;width:18.2px;height:13.69px;background:#ffffff"></div>
<div style="left:655.8px;top:213.98px;width:18.2px;height:13.69px;background:#00a800"></div>
<div style="left:678.4px;top:213.98px;width:18.2px;height:13.69px;background:#00c800"></div>
<div style="left:701px;top:213.98px;width:18.2px;height:13.69px;background:#ffffff"></div>
<div style="left:723.6px;top:213.98px;width:18.2px;height:13.69px;background:#ffffff"></div>
<div class="tk" style="left:602.4px;top:220px;width:3.5px;height:1px"></div>
<div class="t rl" style="right:149.6px;top:215.87px">Pallidum L</div>
<div style="left:610.6px;top:227.62px;width:18.2px;height:13.69px;background:#ffffff"></div>
<div style="left:633.2px;top:227.62px;width:18.2px;height:13.69px;background:#ffffff"></div>
<div style="left:655.8px;top:227.62px;width:18.2px;height:13.69px;background:#ffffff"></div>
<div style="left:678.4px;top:227.62px;width:18.2px;height:13.69px;background:#ffffff"></div>
<div style="left:701px;top:227.62px;width:18.2px;height:13.69px;background:#ffffff"></div>
<div style="left:723.6px;top:227.62px;width:18.2px;height:13.69px;background:#00bd00"></div>
<div class="tk" style="left:602.4px;top:234px;width:3.5px;height:1px"></div>
<div class="t rl" style="right:149.6px;top:229.51px">Thalamus R</div>
<div style="left:610.6px;top:241.26px;width:18.2px;height:13.69px;background:#e1fcdb"></div>
<div style="left:633.2px;top:241.26px;width:18.2px;height:13.69px;background:#a6f896"></div>
<div style="left:655.8px;top:241.26px;width:18.2px;height:13.69px;background:#ffffff"></div>
<div style="left:678.4px;top:241.26px;width:18.2px;height:13.69px;background:#e1fcdb"></div>
<div style="left:701px;top:241.26px;width:18.2px;height:13.69px;background:#bdf9b1"></div>
<div style="left:723.6px;top:241.26px;width:18.2px;height:13.69px;background:#00bd00"></div>
<div class="tk" style="left:602.4px;top:248px;width:3.5px;height:1px"></div>
<div class="t rl" style="right:149.6px;top:243.15px">Temp Pole Sup L</div>
<div style="left:610.6px;top:254.9px;width:18.2px;height:13.69px;background:#a6f896"></div>
<div style="left:633.2px;top:254.9px;width:18.2px;height:13.69px;background:#a6f896"></div>
<div style="left:655.8px;top:254.9px;width:18.2px;height:13.69px;background:#cffbc6"></div>
<div style="left:678.4px;top:254.9px;width:18.2px;height:13.69px;background:#a6f896"></div>
<div style="left:701px;top:254.9px;width:18.2px;height:13.69px;background:#cffbc6"></div>
<div style="left:723.6px;top:254.9px;width:18.2px;height:13.69px;background:#ffffff"></div>
<div class="tk" style="left:602.4px;top:261px;width:3.5px;height:1px"></div>
<div class="t rl" style="right:149.6px;top:256.79px">Temp Pole Sup R</div>
<div style="left:610.6px;top:268.54px;width:18.2px;height:13.69px;background:#e1fcdb"></div>
<div style="left:633.2px;top:268.54px;width:18.2px;height:13.69px;background:#ffffff"></div>
<div style="left:655.8px;top:268.54px;width:18.2px;height:13.69px;background:#e1fcdb"></div>
<div style="left:678.4px;top:268.54px;width:18.2px;height:13.69px;background:#e1fcdb"></div>
<div style="left:701px;top:268.54px;width:18.2px;height:13.69px;background:#ffffff"></div>
<div style="left:723.6px;top:268.54px;width:18.2px;height:13.69px;background:#ffffff"></div>
<div class="tk" style="left:602.4px;top:275px;width:3.5px;height:1px"></div>
<div class="t rl" style="right:149.6px;top:270.43px">Temp Mid R</div>
<div style="left:610.6px;top:282.18px;width:18.2px;height:13.69px;background:#bdf9b1"></div>
<div style="left:633.2px;top:282.18px;width:18.2px;height:13.69px;background:#cffbc6"></div>
<div style="left:655.8px;top:282.18px;width:18.2px;height:13.69px;background:#a6f896"></div>
<div style="left:678.4px;top:282.18px;width:18.2px;height:13.69px;background:#bdf9b1"></div>
<div style="left:701px;top:282.18px;width:18.2px;height:13.69px;background:#e1fcdb"></div>
<div style="left:723.6px;top:282.18px;width:18.2px;height:13.69px;background:#ffffff"></div>
<div class="tk" style="left:602.4px;top:288px;width:3.5px;height:1px"></div>
<div class="t rl" style="right:149.6px;top:284.07px">Temp Pol Mid L</div>
<div style="left:610.6px;top:295.82px;width:18.2px;height:13.69px;background:#73f35a"></div>
<div style="left:633.2px;top:295.82px;width:18.2px;height:13.69px;background:#a6f896"></div>
<div style="left:655.8px;top:295.82px;width:18.2px;height:13.69px;background:#effeec"></div>
<div style="left:678.4px;top:295.82px;width:18.2px;height:13.69px;background:#73f35a"></div>
<div style="left:701px;top:295.82px;width:18.2px;height:13.69px;background:#cffbc6"></div>
<div style="left:723.6px;top:295.82px;width:18.2px;height:13.69px;background:#ffffff"></div>
<div class="tk" style="left:602.4px;top:302px;width:3.5px;height:1px"></div>
<div class="t rl" style="right:149.6px;top:297.71px">Temp Pol Mid R</div>
<div style="left:610.6px;top:309.46px;width:18.2px;height:13.69px;background:#e1fcdb"></div>
<div style="left:633.2px;top:309.46px;width:18.2px;height:13.69px;background:#ffffff"></div>
<div style="left:655.8px;top:309.46px;width:18.2px;height:13.69px;background:#effeec"></div>
<div style="left:678.4px;top:309.46px;width:18.2px;height:13.69px;background:#e1fcdb"></div>
<div style="left:701px;top:309.46px;width:18.2px;height:13.69px;background:#ffffff"></div>
<div style="left:723.6px;top:309.46px;width:18.2px;height:13.69px;background:#ffffff"></div>
<div class="tk" style="left:602.4px;top:316px;width:3.5px;height:1px"></div>
<div class="t rl" style="right:149.6px;top:311.35px">Temp Inf L</div>
<div style="left:610.6px;top:323.1px;width:18.2px;height:13.69px;background:#00a800"></div>
<div style="left:633.2px;top:323.1px;width:18.2px;height:13.69px;background:#00c800"></div>
<div style="left:655.8px;top:323.1px;width:18.2px;height:13.69px;background:#00bd00"></div>
<div style="left:678.4px;top:323.1px;width:18.2px;height:13.69px;background:#00a800"></div>
<div style="left:701px;top:323.1px;width:18.2px;height:13.69px;background:#ffffff"></div>
<div style="left:723.6px;top:323.1px;width:18.2px;height:13.69px;background:#ffffff"></div>
<div class="tk" style="left:602.4px;top:329px;width:3.5px;height:1px"></div>
<div class="t rl" style="right:149.6px;top:324.99px">Cereb Crus1 R</div>
<div style="left:610.6px;top:336.74px;width:18.2px;height:13.69px;background:#00c800"></div>
<div style="left:633.2px;top:336.74px;width:18.2px;height:13.69px;background:#ffffff"></div>
<div style="left:655.8px;top:336.74px;width:18.2px;height:13.69px;background:#00bd00"></div>
<div style="left:678.4px;top:336.74px;width:18.2px;height:13.69px;background:#00c800"></div>
<div style="left:701px;top:336.74px;width:18.2px;height:13.69px;background:#ffffff"></div>
<div style="left:723.6px;top:336.74px;width:18.2px;height:13.69px;background:#ffffff"></div>
<div class="tk" style="left:602.4px;top:343px;width:3.5px;height:1px"></div>
<div class="t rl" style="right:149.6px;top:338.63px">Cereb Crus2 L</div>
<div style="left:610.6px;top:350.38px;width:18.2px;height:13.69px;background:#00c800"></div>
<div style="left:633.2px;top:350.38px;width:18.2px;height:13.69px;background:#ffffff"></div>
<div style="left:655.8px;top:350.38px;width:18.2px;height:13.69px;background:#ffffff"></div>
<div style="left:678.4px;top:350.38px;width:18.2px;height:13.69px;background:#00c800"></div>
<div style="left:701px;top:350.38px;width:18.2px;height:13.69px;background:#ffffff"></div>
<div style="left:723.6px;top:350.38px;width:18.2px;height:13.69px;background:#ffffff"></div>
<div class="tk" style="left:602.4px;top:357px;width:3.5px;height:1px"></div>
<div class="t rl" style="right:149.6px;top:352.27px">Cereb Crus2 R</div>
<div style="left:610.6px;top:364.02px;width:18.2px;height:13.69px;background:#00bd00"></div>
<div style="left:633.2px;top:364.02px;width:18.2px;height:13.69px;background:#ffffff"></div>
<div style="left:655.8px;top:364.02px;width:18.2px;height:13.69px;background:#00c800"></div>
<div style="left:678.4px;top:364.02px;width:18.2px;height:13.69px;background:#00bd00"></div>
<div style="left:701px;top:364.02px;width:18.2px;height:13.69px;background:#ffffff"></div>
<div style="left:723.6px;top:364.02px;width:18.2px;height:13.69px;background:#ffffff"></div>
<div class="tk" style="left:602.4px;top:370px;width:3.5px;height:1px"></div>
<div class="t rl" style="right:149.6px;top:365.91px">Cereb 7b R</div>
<div style="left:610.6px;top:377.66px;width:18.2px;height:13.69px;background:#ffffff"></div>
<div style="left:633.2px;top:377.66px;width:18.2px;height:13.69px;background:#00c800"></div>
<div style="left:655.8px;top:377.66px;width:18.2px;height:13.69px;background:#ffffff"></div>
<div style="left:678.4px;top:377.66px;width:18.2px;height:13.69px;background:#ffffff"></div>
<div style="left:701px;top:377.66px;width:18.2px;height:13.69px;background:#ffffff"></div>
<div style="left:723.6px;top:377.66px;width:18.2px;height:13.69px;background:#ffffff"></div>
<div class="tk" style="left:602.4px;top:384px;width:3.5px;height:1px"></div>
<div class="t rl" style="right:149.6px;top:379.55px">Vermis 4 5</div>
<div class="tk" style="left:619px;top:392.5px;width:1px;height:3px"></div>
<div class="t cl" style="left:599.9px;top:397.97px;width:40px;text-align:center">GE</div>
<div class="tk" style="left:642px;top:392.5px;width:1px;height:3px"></div>
<div class="t cl" style="left:622.5px;top:397.97px;width:40px;text-align:center">LE</div>
<div class="tk" style="left:665px;top:392.5px;width:1px;height:3px"></div>
<div class="t cl" style="left:645.1px;top:397.97px;width:40px;text-align:center">D</div>
<div class="tk" style="left:687px;top:392.5px;width:1px;height:3px"></div>
<div class="t cl" style="left:667.7px;top:397.97px;width:40px;text-align:center">Srt</div>
<div class="tk" style="left:710px;top:392.5px;width:1px;height:3px"></div>
<div class="t cl" style="left:690.3px;top:397.97px;width:40px;text-align:center">CC</div>
<div class="tk" style="left:732px;top:392.5px;width:1px;height:3px"></div>
<div class="t cl" style="left:712.9px;top:397.97px;width:40px;text-align:center">BC</div>
<div class="t pt" style="left:15.81px;top:503.74px">bvFTD</div>
<div class="bx" style="left:13.7px;top:522.6px;width:252.7px;height:688.4px"></div>
<div class="st" style="left:126px;top:523.9px;width:139.1px;height:670.15px"></div>
<div class="gl" style="left:126px;top:530px;width:139.1px;height:1px"></div>
<div class="gl" style="left:126px;top:544px;width:139.1px;height:1px"></div>
<div class="gl" style="left:126px;top:558px;width:139.1px;height:1px"></div>
<div class="gl" style="left:126px;top:571px;width:139.1px;height:1px"></div>
<div class="gl" style="left:126px;top:585px;width:139.1px;height:1px"></div>
<div class="gl" style="left:126px;top:599px;width:139.1px;height:1px"></div>
<div class="gl" style="left:126px;top:612px;width:139.1px;height:1px"></div>
<div class="gl" style="left:126px;top:626px;width:139.1px;height:1px"></div>
<div class="gl" style="left:126px;top:640px;width:139.1px;height:1px"></div>
<div class="gl" style="left:126px;top:653px;width:139.1px;height:1px"></div>
<div class="gl" style="left:126px;top:667px;width:139.1px;height:1px"></div>
<div class="gl" style="left:126px;top:680px;width:139.1px;height:1px"></div>
<div class="gl" style="left:126px;top:694px;width:139.1px;height:1px"></div>
<div class="gl" style="left:126px;top:708px;width:139.1px;height:1px"></div>
<div class="gl" style="left:126px;top:721px;width:139.1px;height:1px"></div>
<div class="gl" style="left:126px;top:735px;width:139.1px;height:1px"></div>
<div class="gl" style="left:126px;top:749px;width:139.1px;height:1px"></div>
<div class="gl" style="left:126px;top:762px;width:139.1px;height:1px"></div>
<div class="gl" style="left:126px;top:776px;width:139.1px;height:1px"></div>
<div class="gl" style="left:126px;top:790px;width:139.1px;height:1px"></div>
<div class="gl" style="left:126px;top:803px;width:139.1px;height:1px"></div>
<div class="gl" style="left:126px;top:817px;width:139.1px;height:1px"></div>
<div class="gl" style="left:126px;top:831px;width:139.1px;height:1px"></div>
<div class="gl" style="left:126px;top:844px;width:139.1px;height:1px"></div>
<div class="gl" style="left:126px;top:858px;width:139.1px;height:1px"></div>
<div class="gl" style="left:126px;top:872px;width:139.1px;height:1px"></div>
<div class="gl" style="left:126px;top:885px;width:139.1px;height:1px"></div>
<div class="gl" style="left:126px;top:899px;width:139.1px;height:1px"></div>
<div class="gl" style="left:126px;top:913px;width:139.1px;height:1px"></div>
<div class="gl" style="left:126px;top:926px;width:139.1px;height:1px"></div>
<div class="gl" style="left:126px;top:940px;width:139.1px;height:1px"></div>
<div class="gl" style="left:126px;top:953px;width:139.1px;height:1px"></div>
<div class="gl" style="left:126px;top:967px;width:139.1px;height:1px"></div>
<div class="gl" style="left:126px;top:981px;width:139.1px;height:1px"></div>
<div class="gl" style="left:126px;top:994px;width:139.1px;height:1px"></div>
<div class="gl" style="left:126px;top:1008px;width:139.1px;height:1px"></div>
<div class="gl" style="left:126px;top:1022px;width:139.1px;height:1px"></div>
<div class="gl" style="left:126px;top:1035px;width:139.1px;height:1px"></div>
<div class="gl" style="left:126px;top:1049px;width:139.1px;height:1px"></div>
<div class="gl" style="left:126px;top:1063px;width:139.1px;height:1px"></div>
<div class="gl" style="left:126px;top:1076px;width:139.1px;height:1px"></div>
<div class="gl" style="left:126px;top:1090px;width:139.1px;height:1px"></div>
<div class="gl" style="left:126px;top:1104px;width:139.1px;height:1px"></div>
<div class="gl" style="left:126px;top:1117px;width:139.1px;height:1px"></div>
<div class="gl" style="left:126px;top:1131px;width:139.1px;height:1px"></div>
<div class="gl" style="left:126px;top:1145px;width:139.1px;height:1px"></div>
<div class="gl" style="left:126px;top:1158px;width:139.1px;height:1px"></div>
<div class="gl" style="left:126px;top:1172px;width:139.1px;height:1px"></div>
<div class="gl" style="left:126px;top:1186px;width:139.1px;height:1px"></div>
<div style="left:130.2px;top:524px;width:18.1px;height:13.7px;background:#ffe3a3"></div>
<div style="left:152.9px;top:524px;width:18.1px;height:13.7px;background:#fff4db"></div>
<div style="left:175.6px;top:524px;width:18.1px;height:13.7px;background:#ffecc2"></div>
<div style="left:198.3px;top:524px;width:18.1px;height:13.7px;background:#ffe3a3"></div>
<div style="left:221px;top:524px;width:18.1px;height:13.7px;background:#ffffff"></div>
<div style="left:243.7px;top:524px;width:18.1px;height:13.7px;background:#ffffff"></div>
<div class="tk" style="left:121.8px;top:530px;width:3.5px;height:1px"></div>
<div class="t rl" style="right:630.2px;top:525.9px">Precentral L</div>
<div style="left:130.2px;top:537.65px;width:18.1px;height:13.7px;background:#ffffff"></div>
<div style="left:152.9px;top:537.65px;width:18.1px;height:13.7px;background:#fff4db"></div>
<div style="left:175.6px;top:537.65px;width:18.1px;height:13.7px;background:#ffffff"></div>
<div style="left:198.3px;top:537.65px;width:18.1px;height:13.7px;background:#fff9ed"></div>
<div style="left:221px;top:537.65px;width:18.1px;height:13.7px;background:#ffffff"></div>
<div style="left:243.7px;top:537.65px;width:18.1px;height:13.7px;background:#ffffff"></div>
<div class="tk" style="left:121.8px;top:544px;width:3.5px;height:1px"></div>
<div class="t rl" style="right:630.2px;top:539.55px">Precentral R</div>
<div style="left:130.2px;top:551.3px;width:18.1px;height:13.7px;background:#ffcd5e"></div>
<div style="left:152.9px;top:551.3px;width:18.1px;height:13.7px;background:#ffcd5e"></div>
<div style="left:175.6px;top:551.3px;width:18.1px;height:13.7px;background:#ffd880"></div>
<div style="left:198.3px;top:551.3px;width:18.1px;height:13.7px;background:#ffcd5e"></div>
<div style="left:221px;top:551.3px;width:18.1px;height:13.7px;background:#ffffff"></div>
<div style="left:243.7px;top:551.3px;width:18.1px;height:13.7px;background:#ffffff"></div>
<div class="tk" style="left:121.8px;top:558px;width:3.5px;height:1px"></div>
<div class="t rl" style="right:630.2px;top:553.2px">Fr Sup L</div>
<div style="left:130.2px;top:564.95px;width:18.1px;height:13.7px;background:#ffd880"></div>
<div style="left:152.9px;top:564.95px;width:18.1px;height:13.7px;background:#ffe3a3"></div>
<div style="left:175.6px;top:564.95px;width:18.1px;height:13.7px;background:#ffe3a3"></div>
<div style="left:198.3px;top:564.95px;width:18.1px;height:13.7px;background:#ffd880"></div>
<div style="left:221px;top:564.95px;width:18.1px;height:13.7px;background:#ffffff"></div>
<div style="left:243.7px;top:564.95px;width:18.1px;height:13.7px;background:#ffffff"></div>
<div class="tk" style="left:121.8px;top:571px;width:3.5px;height:1px"></div>
<div class="t rl" style="right:630.2px;top:566.85px">Fr Sup R</div>
<div style="left:130.2px;top:578.6px;width:18.1px;height:13.7px;background:#fff4db"></div>
<div style="left:152.9px;top:578.6px;width:18.1px;height:13.7px;background:#ffffff"></div>
<div style="left:175.6px;top:578.6px;width:18.1px;height:13.7px;background:#fff4db"></div>
<div style="left:198.3px;top:578.6px;width:18.1px;height:13.7px;background:#fff4db"></div>
<div style="left:221px;top:578.6px;width:18.1px;height:13.7px;background:#ffffff"></div>
<div style="left:243.7px;top:578.6px;width:18.1px;height:13.7px;background:#ffffff"></div>
<div class="tk" style="left:121.8px;top:585px;width:3.5px;height:1px"></div>
<div class="t rl" style="right:630.2px;top:580.5px">Fr Sup Orb L</div>
<div style="left:130.2px;top:592.25px;width:18.1px;height:13.7px;background:#ffecc2"></div>
<div style="left:152.9px;top:592.25px;width:18.1px;height:13.7px;background:#fff4db"></div>
<div style="left:175.6px;top:592.25px;width:18.1px;height:13.7px;background:#ffecc2"></div>
<div style="left:198.3px;top:592.25px;width:18.1px;height:13.7px;background:#ffecc2"></div>
<div style="left:221px;top:592.25px;width:18.1px;height:13.7px;background:#ffffff"></div>
<div style="left:243.7px;top:592.25px;width:18.1px;height:13.7px;background:#ffffff"></div>
<div class="tk" style="left:121.8px;top:599px;width:3.5px;height:1px"></div>
<div class="t rl" style="right:630.2px;top:594.15px">Fr Sup Orb R</div>
<div style="left:130.2px;top:605.9px;width:18.1px;height:13.7px;background:#ffd880"></div>
<div style="left:152.9px;top:605.9px;width:18.1px;height:13.7px;background:#ffecc2"></div>
<div style="left:175.6px;top:605.9px;width:18.1px;height:13.7px;background:#ffd880"></div>
<div style="left:198.3px;top:605.9px;width:18.1px;height:13.7px;background:#ffd880"></div>
<div style="left:221px;top:605.9px;width:18.1px;height:13.7px;background:#ffffff"></div>
<div style="left:243.7px;top:605.9px;width:18.1px;height:13.7px;background:#ffffff"></div>
<div class="tk" style="left:121.8px;top:612px;width:3.5px;height:1px"></div>
<div class="t rl" style="right:630.2px;top:607.8px">Fr Mid L</div>
<div style="left:130.2px;top:619.55px;width:18.1px;height:13.7px;background:#ffc33d"></div>
<div style="left:152.9px;top:619.55px;width:18.1px;height:13.7px;background:#ffecc2"></div>
<div style="left:175.6px;top:619.55px;width:18.1px;height:13.7px;background:#ffcd5e"></div>
<div style="left:198.3px;top:619.55px;width:18.1px;height:13.7px;background:#ffc33d"></div>
<div style="left:221px;top:619.55px;width:18.1px;height:13.7px;background:#ffffff"></div>
<div style="left:243.7px;top:619.55px;width:18.1px;height:13.7px;background:#ffffff"></div>
<div class="tk" style="left:121.8px;top:626px;width:3.5px;height:1px"></div>
<div class="t rl" style="right:630.2px;top:621.45px">Fr Mid R</div>
<div style="left:130.2px;top:633.2px;width:18.1px;height:13.7px;background:#fff4db"></div>
<div style="left:152.9px;top:633.2px;width:18.1px;height:13.7px;background:#ffecc2"></div>
<div style="left:175.6px;top:633.2px;width:18.1px;height:13.7px;background:#ffffff"></div>
<div style="left:198.3px;top:633.2px;width:18.1px;height:13.7px;background:#fff4db"></div>
<div style="left:221px;top:633.2px;width:18.1px;height:13.7px;background:#ffecc2"></div>
<div style="left:243.7px;top:633.2px;width:18.1px;height:13.7px;background:#ffffff"></div>
<div class="tk" style="left:121.8px;top:640px;width:3.5px;height:1px"></div>
<div class="t rl" style="right:630.2px;top:635.1px">Fr Mid Orb L</div>
<div style="left:130.2px;top:646.85px;width:18.1px;height:13.7px;background:#fff4db"></div>
<div style="left:152.9px;top:646.85px;width:18.1px;height:13.7px;background:#ffd880"></div>
<div style="left:175.6px;top:646.85px;width:18.1px;height:13.7px;background:#ffffff"></div>
<div style="left:198.3px;top:646.85px;width:18.1px;height:13.7px;background:#fff4db"></div>
<div style="left:221px;top:646.85px;width:18.1px;height:13.7px;background:#ffffff"></div>
<div style="left:243.7px;top:646.85px;width:18.1px;height:13.7px;background:#ffffff"></div>
<div class="tk" style="left:121.8px;top:653px;width:3.5px;height:1px"></div>
<div class="t rl" style="right:630.2px;top:648.75px">Fr Inf Oper L</div>
<div style="left:130.2px;top:660.5px;width:18.1px;height:13.7px;background:#ffffff"></div>
<div style="left:152.9px;top:660.5px;width:18.1px;height:13.7px;background:#ffd880"></div>
<div style="left:175.6px;top:660.5px;width:18.1px;height:13.7px;background:#ffffff"></div>
<div style="left:198.3px;top:660.5px;width:18.1px;height:13.7px;background:#ffffff"></div>
<div style="left:221px;top:660.5px;width:18.1px;height:13.7px;background:#ffffff"></div>
<div style="left:243.7px;top:660.5px;width:18.1px;height:13.7px;background:#ffffff"></div>
<div class="tk" style="left:121.8px;top:667px;width:3.5px;height:1px"></div>
<div class="t rl" style="right:630.2px;top:662.4px">Fr Inf Oper R</div>
<div style="left:130.2px;top:674.15px;width:18.1px;height:13.7px;background:#ffd880"></div>
<div style="left:152.9px;top:674.15px;width:18.1px;height:13.7px;background:#ffcd5e"></div>
<div style="left:175.6px;top:674.15px;width:18.1px;height:13.7px;background:#ffd880"></div>
<div style="left:198.3px;top:674.15px;width:18.1px;height:13.7px;background:#ffd880"></div>
<div style="left:221px;top:674.15px;width:18.1px;height:13.7px;background:#ffffff"></div>
<div style="left:243.7px;top:674.15px;width:18.1px;height:13.7px;background:#ffffff"></div>
<div class="tk" style="left:121.8px;top:680px;width:3.5px;height:1px"></div>
<div class="t rl" style="right:630.2px;top:676.05px">Fr Inf Tri L</div>
<div style="left:130.2px;top:687.8px;width:18.1px;height:13.7px;background:#ffd880"></div>
<div style="left:152.9px;top:687.8px;width:18.1px;height:13.7px;background:#ffd880"></div>
<div style="left:175.6px;top:687.8px;width:18.1px;height:13.7px;background:#ffd880"></div>
<div style="left:198.3px;top:687.8px;width:18.1px;height:13.7px;background:#ffd880"></div>
<div style="left:221px;top:687.8px;width:18.1px;height:13.7px;background:#ffffff"></div>
<div style="left:243.7px;top:687.8px;width:18.1px;height:13.7px;background:#ffffff"></div>
<div class="tk" style="left:121.8px;top:694px;width:3.5px;height:1px"></div>
<div class="t rl" style="right:630.2px;top:689.7px">Fr Inf Tri R</div>
<div style="left:130.2px;top:701.45px;width:18.1px;height:13.7px;background:#ffe3a3"></div>
<div style="left:152.9px;top:701.45px;width:18.1px;height:13.7px;background:#ffecc2"></div>
<div style="left:175.6px;top:701.45px;width:18.1px;height:13.7px;background:#ffecc2"></div>
<div style="left:198.3px;top:701.45px;width:18.1px;height:13.7px;background:#ffe3a3"></div>
<div style="left:221px;top:701.45px;width:18.1px;height:13.7px;background:#ffffff"></div>
<div style="left:243.7px;top:701.45px;width:18.1px;height:13.7px;background:#ffffff"></div>
<div class="tk" style="left:121.8px;top:708px;width:3.5px;height:1px"></div>
<div class="t rl" style="right:630.2px;top:703.35px">Fr Inf Orb L</div>
<div style="left:130.2px;top:715.1px;width:18.1px;height:13.7px;background:#ffe3a3"></div>
<div style="left:152.9px;top:715.1px;width:18.1px;height:13.7px;background:#fff4db"></div>
<div style="left:175.6px;top:715.1px;width:18.1px;height:13.7px;background:#ffecc2"></div>
<div style="left:198.3px;top:715.1px;width:18.1px;height:13.7px;background:#ffecc2"></div>
<div style="left:221px;top:715.1px;width:18.1px;height:13.7px;background:#ffffff"></div>
<div style="left:243.7px;top:715.1px;width:18.1px;height:13.7px;background:#ffffff"></div>
<div class="tk" style="left:121.8px;top:721px;width:3.5px;height:1px"></div>
<div class="t rl" style="right:630.2px;top:717px">Fr Inf Orb R</div>
<div style="left:130.2px;top:728.75px;width:18.1px;height:13.7px;background:#ffffff"></div>
<div style="left:152.9px;top:728.75px;width:18.1px;height:13.7px;background:#ffffff"></div>
<div style="left:175.6px;top:728.75px;width:18.1px;height:13.7px;background:#ff9e00"></div>
<div style="left:198.3px;top:728.75px;width:18.1px;height:13.7px;background:#ffffff"></div>
<div style="left:221px;top:728.75px;width:18.1px;height:13.7px;background:#ffffff"></div>
<div style="left:243.7px;top:728.75px;width:18.1px;height:13.7px;background:#ffffff"></div>
<div class="tk" style="left:121.8px;top:735px;width:3.5px;height:1px"></div>
<div class="t rl" style="right:630.2px;top:730.65px">Rolan Oper L</div>
<div style="left:130.2px;top:742.4px;width:18.1px;height:13.7px;background:#fff4db"></div>
<div style="left:152.9px;top:742.4px;width:18.1px;height:13.7px;background:#ffc33d"></div>
<div style="left:175.6px;top:742.4px;width:18.1px;height:13.7px;background:#ffffff"></div>
<div style="left:198.3px;top:742.4px;width:18.1px;height:13.7px;background:#fff4db"></div>
<div style="left:221px;top:742.4px;width:18.1px;height:13.7px;background:#ffffff"></div>
<div style="left:243.7px;top:742.4px;width:18.1px;height:13.7px;background:#ffffff"></div>
<div class="tk" style="left:121.8px;top:749px;width:3.5px;height:1px"></div>
<div class="t rl" style="right:630.2px;top:744.3px">Supp Motor L</div>
<div style="left:130.2px;top:756.05px;width:18.1px;height:13.7px;background:#ffffff"></div>
<div style="left:152.9px;top:756.05px;width:18.1px;height:13.7px;background:#ffd880"></div>
<div style="left:175.6px;top:756.05px;width:18.1px;height:13.7px;background:#ffffff"></div>
<div style="left:198.3px;top:756.05px;width:18.1px;height:13.7px;background:#fff9ed"></div>
<div style="left:221px;top:756.05px;width:18.1px;height:13.7px;background:#ffffff"></div>
<div style="left:243.7px;top:756.05px;width:18.1px;height:13.7px;background:#ffffff"></div>
<div class="tk" style="left:121.8px;top:762px;width:3.5px;height:1px"></div>
<div class="t rl" style="right:630.2px;top:757.95px">Supp Motor R</div>
<div style="left:130.2px;top:769.7px;width:18.1px;height:13.7px;background:#ffffff"></div>
<div style="left:152.9px;top:769.7px;width:18.1px;height:13.7px;background:#fff4db"></div>
<div style="left:175.6px;top:769.7px;width:18.1px;height:13.7px;background:#ffffff"></div>
<div style="left:198.3px;top:769.7px;width:18.1px;height:13.7px;background:#ffffff"></div>
<div style="left:221px;top:769.7px;width:18.1px;height:13.7px;background:#ffffff"></div>
<div style="left:243.7px;top:769.7px;width:18.1px;height:13.7px;background:#ffffff"></div>
<div class="tk" style="left:121.8px;top:776px;width:3.5px;height:1px"></div>
<div class="t rl" style="right:630.2px;top:771.6px">Olfactory L</div>
<div style="left:130.2px;top:783.35px;width:18.1px;height:13.7px;background:#ffcd5e"></div>
<div style="left:152.9px;top:783.35px;width:18.1px;height:13.7px;background:#ffcd5e"></div>
<div style="left:175.6px;top:783.35px;width:18.1px;height:13.7px;background:#ffe3a3"></div>
<div style="left:198.3px;top:783.35px;width:18.1px;height:13.7px;background:#ffcd5e"></div>
<div style="left:221px;top:783.35px;width:18.1px;height:13.7px;background:#ffffff"></div>
<div style="left:243.7px;top:783.35px;width:18.1px;height:13.7px;background:#ffffff"></div>
<div class="tk" style="left:121.8px;top:790px;width:3.5px;height:1px"></div>
<div class="t rl" style="right:630.2px;top:785.25px">Fr Sup Med L</div>
<div style="left:130.2px;top:797px;width:18.1px;height:13.7px;background:#fff4db"></div>
<div style="left:152.9px;top:797px;width:18.1px;height:13.7px;background:#ffcd5e"></div>
<div style="left:175.6px;top:797px;width:18.1px;height:13.7px;background:#ffffff"></div>
<div style="left:198.3px;top:797px;width:18.1px;height:13.7px;background:#fff4db"></div>
<div style="left:221px;top:797px;width:18.1px;height:13.7px;background:#ffecc2"></div>
<div style="left:243.7px;top:797px;width:18.1px;height:13.7px;background:#ffffff"></div>
<div class="tk" style="left:121.8px;top:803px;width:3.5px;height:1px"></div>
<div class="t rl" style="right:630.2px;top:798.9px">Fr Sup Med R</div>
<div style="left:130.2px;top:810.65px;width:18.1px;height:13.7px;background:#ffecc2"></div>
<div style="left:152.9px;top:810.65px;width:18.1px;height:13.7px;background:#ffe3a3"></div>
<div style="left:175.6px;top:810.65px;width:18.1px;height:13.7px;background:#fff4db"></div>
<div style="left:198.3px;top:810.65px;width:18.1px;height:13.7px;background:#ffecc2"></div>
<div style="left:221px;top:810.65px;width:18.1px;height:13.7px;background:#ffffff"></div>
<div style="left:243.7px;top:810.65px;width:18.1px;height:13.7px;background:#ffffff"></div>
<div class="tk" style="left:121.8px;top:817px;width:3.5px;height:1px"></div>
<div class="t rl" style="right:630.2px;top:812.55px">Fr Med Orb L</div>
<div style="left:130.2px;top:824.3px;width:18.1px;height:13.7px;background:#ffecc2"></div>
<div style="left:152.9px;top:824.3px;width:18.1px;height:13.7px;background:#ffe3a3"></div>
<div style="left:175.6px;top:824.3px;width:18.1px;height:13.7px;background:#fff4db"></div>
<div style="left:198.3px;top:824.3px;width:18.1px;height:13.7px;background:#ffecc2"></div>
<div style="left:221px;top:824.3px;width:18.1px;height:13.7px;background:#ffffff"></div>
<div style="left:243.7px;top:824.3px;width:18.1px;height:13.7px;background:#ffffff"></div>
<div class="tk" style="left:121.8px;top:831px;width:3.5px;height:1px"></div>
<div class="t rl" style="right:630.2px;top:826.2px">Fr Med Orb R</div>
<div style="left:130.2px;top:837.95px;width:18.1px;height:13.7px;background:#ffffff"></div>
<div style="left:152.9px;top:837.95px;width:18.1px;height:13.7px;background:#ffffff"></div>
<div style="left:175.6px;top:837.95px;width:18.1px;height:13.7px;background:#ffffff"></div>
<div style="left:198.3px;top:837.95px;width:18.1px;height:13.7px;background:#fff9ed"></div>
<div style="left:221px;top:837.95px;width:18.1px;height:13.7px;background:#ffffff"></div>
<div style="left:243.7px;top:837.95px;width:18.1px;height:13.7px;background:#ffffff"></div>
<div class="tk" style="left:121.8px;top:844px;width:3.5px;height:1px"></div>
<div class="t rl" style="right:630.2px;top:839.85px">Rectus L</div>
<div style="left:130.2px;top:851.6px;width:18.1px;height:13.7px;background:#ffd880"></div>
<div style="left:152.9px;top:851.6px;width:18.1px;height:13.7px;background:#ffecc2"></div>
<div style="left:175.6px;top:851.6px;width:18.1px;height:13.7px;background:#ffe3a3"></div>
<div style="left:198.3px;top:851.6px;width:18.1px;height:13.7px;background:#ffd880"></div>
<div style="left:221px;top:851.6px;width:18.1px;height:13.7px;background:#ffffff"></div>
<div style="left:243.7px;top:851.6px;width:18.1px;height:13.7px;background:#ffffff"></div>
<div class="tk" style="left:121.8px;top:858px;width:3.5px;height:1px"></div>
<div class="t rl" style="right:630.2px;top:853.5px">Cing Ant L</div>
<div style="left:130.2px;top:865.25px;width:18.1px;height:13.7px;background:#ffd880"></div>
<div style="left:152.9px;top:865.25px;width:18.1px;height:13.7px;background:#ffcd5e"></div>
<div style="left:175.6px;top:865.25px;width:18.1px;height:13.7px;background:#ffe3a3"></div>
<div style="left:198.3px;top:865.25px;width:18.1px;height:13.7px;background:#ffd880"></div>
<div style="left:221px;top:865.25px;width:18.1px;height:13.7px;background:#ffecc2"></div>
<div style="left:243.7px;top:865.25px;width:18.1px;height:13.7px;background:#ffffff"></div>
<div class="tk" style="left:121.8px;top:872px;width:3.5px;height:1px"></div>
<div class="t rl" style="right:630.2px;top:867.15px">Cing Ant R</div>
<div style="left:130.2px;top:878.9px;width:18.1px;height:13.7px;background:#ffffff"></div>
<div style="left:152.9px;top:878.9px;width:18.1px;height:13.7px;background:#fff4db"></div>
<div style="left:175.6px;top:878.9px;width:18.1px;height:13.7px;background:#ffffff"></div>
<div style="left:198.3px;top:878.9px;width:18.1px;height:13.7px;background:#ffffff"></div>
<div style="left:221px;top:878.9px;width:18.1px;height:13.7px;background:#fff4db"></div>
<div style="left:243.7px;top:878.9px;width:18.1px;height:13.7px;background:#ffffff"></div>
<div class="tk" style="left:121.8px;top:885px;width:3.5px;height:1px"></div>
<div class="t rl" style="right:630.2px;top:880.8px">Cing Mid L</div>
<div style="left:130.2px;top:892.55px;width:18.1px;height:13.7px;background:#ffffff"></div>
<div style="left:152.9px;top:892.55px;width:18.1px;height:13.7px;background:#ffecc2"></div>
<div style="left:175.6px;top:892.55px;width:18.1px;height:13.7px;background:#ffffff"></div>
<div style="left:198.3px;top:892.55px;width:18.1px;height:13.7px;background:#ffffff"></div>
<div style="left:221px;top:892.55px;width:18.1px;height:13.7px;background:#fff4db"></div>
<div style="left:243.7px;top:892.55px;width:18.1px;height:13.7px;background:#ffffff"></div>
<div class="tk" style="left:121.8px;top:899px;width:3.5px;height:1px"></div>
<div class="t rl" style="right:630.2px;top:894.45px">Cing Mid R</div>
<div style="left:130.2px;top:906.2px;width:18.1px;height:13.7px;background:#ffffff"></div>
<div style="left:152.9px;top:906.2px;width:18.1px;height:13.7px;background:#fff4db"></div>
<div style="left:175.6px;top:906.2px;width:18.1px;height:13.7px;background:#ffffff"></div>
<div style="left:198.3px;top:906.2px;width:18.1px;height:13.7px;background:#ffffff"></div>
<div style="left:221px;top:906.2px;width:18.1px;height:13.7px;background:#ffffff"></div>
<div style="left:243.7px;top:906.2px;width:18.1px;height:13.7px;background:#ffffff"></div>
<div class="tk" style="left:121.8px;top:913px;width:3.5px;height:1px"></div>
<div class="t rl" style="right:630.2px;top:908.1px">Hipp L</div>
<div style="left:130.2px;top:919.85px;width:18.1px;height:13.7px;background:#ffe3a3"></div>
<div style="left:152.9px;top:919.85px;width:18.1px;height:13.7px;background:#ffe3a3"></div>
<div style="left:175.6px;top:919.85px;width:18.1px;height:13.7px;background:#ffecc2"></div>
<div style="left:198.3px;top:919.85px;width:18.1px;height:13.7px;background:#ffe3a3"></div>
<div style="left:221px;top:919.85px;width:18.1px;height:13.7px;background:#ffffff"></div>
<div style="left:243.7px;top:919.85px;width:18.1px;height:13.7px;background:#ffffff"></div>
<div class="tk" style="left:121.8px;top:926px;width:3.5px;height:1px"></div>
<div class="t rl" style="right:630.2px;top:921.75px">ParaHipp L</div>
<div style="left:130.2px;top:933.5px;width:18.1px;height:13.7px;background:#ffe3a3"></div>
<div style="left:152.9px;top:933.5px;width:18.1px;height:13.7px;background:#ffffff"></div>
<div style="left:175.6px;top:933.5px;width:18.1px;height:13.7px;background:#ffe3a3"></div>
<div style="left:198.3px;top:933.5px;width:18.1px;height:13.7px;background:#ffe3a3"></div>
<div style="left:221px;top:933.5px;width:18.1px;height:13.7px;background:#ffffff"></div>
<div style="left:243.7px;top:933.5px;width:18.1px;height:13.7px;background:#ffffff"></div>
<div class="tk" style="left:121.8px;top:940px;width:3.5px;height:1px"></div>
<div class="t rl" style="right:630.2px;top:935.4px">ParaHipp R</div>
<div style="left:130.2px;top:947.15px;width:18.1px;height:13.7px;background:#fff4db"></div>
<div style="left:152.9px;top:947.15px;width:18.1px;height:13.7px;background:#ffffff"></div>
<div style="left:175.6px;top:947.15px;width:18.1px;height:13.7px;background:#ffffff"></div>
<div style="left:198.3px;top:947.15px;width:18.1px;height:13.7px;background:#fff4db"></div>
<div style="left:221px;top:947.15px;width:18.1px;height:13.7px;background:#ffffff"></div>
<div style="left:243.7px;top:947.15px;width:18.1px;height:13.7px;background:#ffffff"></div>
<div class="tk" style="left:121.8px;top:953px;width:3.5px;height:1px"></div>
<div class="t rl" style="right:630.2px;top:949.05px">Calcarine R</div>
<div style="left:130.2px;top:960.8px;width:18.1px;height:13.7px;background:#fff9ed"></div>
<div style="left:152.9px;top:960.8px;width:18.1px;height:13.7px;background:#ffffff"></div>
<div style="left:175.6px;top:960.8px;width:18.1px;height:13.7px;background:#ffffff"></div>
<div style="left:198.3px;top:960.8px;width:18.1px;height:13.7px;background:#fff9ed"></div>
<div style="left:221px;top:960.8px;width:18.1px;height:13.7px;background:#ffffff"></div>
<div style="left:243.7px;top:960.8px;width:18.1px;height:13.7px;background:#ffffff"></div>
<div class="tk" style="left:121.8px;top:967px;width:3.5px;height:1px"></div>
<div class="t rl" style="right:630.2px;top:962.7px">Cuneus R</div>
<div style="left:130.2px;top:974.45px;width:18.1px;height:13.7px;background:#fff4db"></div>
<div style="left:152.9px;top:974.45px;width:18.1px;height:13.7px;background:#fff4db"></div>
<div style="left:175.6px;top:974.45px;width:18.1px;height:13.7px;background:#ffffff"></div>
<div style="left:198.3px;top:974.45px;width:18.1px;height:13.7px;background:#fff4db"></div>
<div style="left:221px;top:974.45px;width:18.1px;height:13.7px;background:#ffffff"></div>
<div style="left:243.7px;top:974.45px;width:18.1px;height:13.7px;background:#ffffff"></div>
<div class="tk" style="left:121.8px;top:981px;width:3.5px;height:1px"></div>
<div class="t rl" style="right:630.2px;top:976.35px">Fusiform L</div>
<div style="left:130.2px;top:988.1px;width:18.1px;height:13.7px;background:#ffffff"></div>
<div style="left:152.9px;top:988.1px;width:18.1px;height:13.7px;background:#fff9ed"></div>
<div style="left:175.6px;top:988.1px;width:18.1px;height:13.7px;background:#ffffff"></div>
<div style="left:198.3px;top:988.1px;width:18.1px;height:13.7px;background:#ffffff"></div>
<div style="left:221px;top:988.1px;width:18.1px;height:13.7px;background:#ffffff"></div>
<div style="left:243.7px;top:988.1px;width:18.1px;height:13.7px;background:#ffffff"></div>
<div class="tk" style="left:121.8px;top:994px;width:3.5px;height:1px"></div>
<div class="t rl" style="right:630.2px;top:990px">Fusiform R</div>
<div style="left:130.2px;top:1001.75px;width:18.1px;height:13.7px;background:#ffffff"></div>
<div style="left:152.9px;top:1001.75px;width:18.1px;height:13.7px;background:#ffecc2"></div>
<div style="left:175.6px;top:1001.75px;width:18.1px;height:13.7px;background:#ffffff"></div>
<div style="left:198.3px;top:1001.75px;width:18.1px;height:13.7px;background:#ffffff"></div>
<div style="left:221px;top:1001.75px;width:18.1px;height:13.7px;background:#ffffff"></div>
<div style="left:243.7px;top:1001.75px;width:18.1px;height:13.7px;background:#ffffff"></div>
<div class="tk" style="left:121.8px;top:1008px;width:3.5px;height:1px"></div>
<div class="t rl" style="right:630.2px;top:1003.65px">Precuneus L</div>
<div style="left:130.2px;top:1015.4px;width:18.1px;height:13.7px;background:#fff4db"></div>
<div style="left:152.9px;top:1015.4px;width:18.1px;height:13.7px;background:#ffffff"></div>
<div style="left:175.6px;top:1015.4px;width:18.1px;height:13.7px;background:#ffffff"></div>
<div style="left:198.3px;top:1015.4px;width:18.1px;height:13.7px;background:#fff4db"></div>
<div style="left:221px;top:1015.4px;width:18.1px;height:13.7px;background:#ffffff"></div>
<div style="left:243.7px;top:1015.4px;width:18.1px;height:13.7px;background:#ffffff"></div>
<div class="tk" style="left:121.8px;top:1022px;width:3.5px;height:1px"></div>
<div class="t rl" style="right:630.2px;top:1017.3px">Precuneus R</div>
<div style="left:130.2px;top:1029.05px;width:18.1px;height:13.7px;background:#ffffff"></div>
<div style="left:152.9px;top:1029.05px;width:18.1px;height:13.7px;background:#fff4db"></div>
<div style="left:175.6px;top:1029.05px;width:18.1px;height:13.7px;background:#ffffff"></div>
<div style="left:198.3px;top:1029.05px;width:18.1px;height:13.7px;background:#ffffff"></div>
<div style="left:221px;top:1029.05px;width:18.1px;height:13.7px;background:#ffffff"></div>
<div style="left:243.7px;top:1029.05px;width:18.1px;height:13.7px;background:#ffffff"></div>
<div class="tk" style="left:121.8px;top:1035px;width:3.5px;height:1px"></div>
<div class="t rl" style="right:630.2px;top:1030.95px">Paracentral Lob L</div>
<div style="left:130.2px;top:1042.7px;width:18.1px;height:13.7px;background:#ffecc2"></div>
<div style="left:152.9px;top:1042.7px;width:18.1px;height:13.7px;background:#fff4db"></div>
<div style="left:175.6px;top:1042.7px;width:18.1px;height:13.7px;background:#ffffff"></div>
<div style="left:198.3px;top:1042.7px;width:18.1px;height:13.7px;background:#ffecc2"></div>
<div style="left:221px;top:1042.7px;width:18.1px;height:13.7px;background:#ffffff"></div>
<div style="left:243.7px;top:1042.7px;width:18.1px;height:13.7px;background:#ffffff"></div>
<div class="tk" style="left:121.8px;top:1049px;width:3.5px;height:1px"></div>
<div class="t rl" style="right:630.2px;top:1044.6px">Caudate L</div>
<div style="left:130.2px;top:1056.35px;width:18.1px;height:13.7px;background:#fff9ed"></div>
<div style="left:152.9px;top:1056.35px;width:18.1px;height:13.7px;background:#ffffff"></div>
<div style="left:175.6px;top:1056.35px;width:18.1px;height:13.7px;background:#ffffff"></div>
<div style="left:198.3px;top:1056.35px;width:18.1px;height:13.7px;background:#fff9ed"></div>
<div style="left:221px;top:1056.35px;width:18.1px;height:13.7px;background:#ffffff"></div>
<div style="left:243.7px;top:1056.35px;width:18.1px;height:13.7px;background:#ffffff"></div>
<div class="tk" style="left:121.8px;top:1063px;width:3.5px;height:1px"></div>
<div class="t rl" style="right:630.2px;top:1058.25px">Caudate R</div>
<div style="left:130.2px;top:1070px;width:18.1px;height:13.7px;background:#f88c00"></div>
<div style="left:152.9px;top:1070px;width:18.1px;height:13.7px;background:#ffffff"></div>
<div style="left:175.6px;top:1070px;width:18.1px;height:13.7px;background:#f88c00"></div>
<div style="left:198.3px;top:1070px;width:18.1px;height:13.7px;background:#f88c00"></div>
<div style="left:221px;top:1070px;width:18.1px;height:13.7px;background:#ffecc2"></div>
<div style="left:243.7px;top:1070px;width:18.1px;height:13.7px;background:#ffffff"></div>
<div class="tk" style="left:121.8px;top:1076px;width:3.5px;height:1px"></div>
<div class="t rl" style="right:630.2px;top:1071.9px">Thalamus L</div>
<div style="left:130.2px;top:1083.65px;width:18.1px;height:13.7px;background:#f88c00"></div>
<div style="left:152.9px;top:1083.65px;width:18.1px;height:13.7px;background:#ffffff"></div>
<div style="left:175.6px;top:1083.65px;width:18.1px;height:13.7px;background:#f28400"></div>
<div style="left:198.3px;top:1083.65px;width:18.1px;height:13.7px;background:#f88c00"></div>
<div style="left:221px;top:1083.65px;width:18.1px;height:13.7px;background:#fff4db"></div>
<div style="left:243.7px;top:1083.65px;width:18.1px;height:13.7px;background:#fb9500"></div>
<div class="tk" style="left:121.8px;top:1090px;width:3.5px;height:1px"></div>
<div class="t rl" style="right:630.2px;top:1085.55px">Thalamus R</div>
<div style="left:130.2px;top:1097.3px;width:18.1px;height:13.7px;background:#ffecc2"></div>
<div style="left:152.9px;top:1097.3px;width:18.1px;height:13.7px;background:#fff4db"></div>
<div style="left:175.6px;top:1097.3px;width:18.1px;height:13.7px;background:#fff4db"></div>
<div style="left:198.3px;top:1097.3px;width:18.1px;height:13.7px;background:#ffecc2"></div>
<div style="left:221px;top:1097.3px;width:18.1px;height:13.7px;background:#ffffff"></div>
<div style="left:243.7px;top:1097.3px;width:18.1px;height:13.7px;background:#ffffff"></div>
<div class="tk" style="left:121.8px;top:1104px;width:3.5px;height:1px"></div>
<div class="t rl" style="right:630.2px;top:1099.2px">Temp Pole Sup L</div>
<div style="left:130.2px;top:1110.95px;width:18.1px;height:13.7px;background:#fff4db"></div>
<div style="left:152.9px;top:1110.95px;width:18.1px;height:13.7px;background:#ffffff"></div>
<div style="left:175.6px;top:1110.95px;width:18.1px;height:13.7px;background:#fff4db"></div>
<div style="left:198.3px;top:1110.95px;width:18.1px;height:13.7px;background:#fff4db"></div>
<div style="left:221px;top:1110.95px;width:18.1px;height:13.7px;background:#ffffff"></div>
<div style="left:243.7px;top:1110.95px;width:18.1px;height:13.7px;background:#ffffff"></div>
<div class="tk" style="left:121.8px;top:1117px;width:3.5px;height:1px"></div>
<div class="t rl" style="right:630.2px;top:1112.85px">Temp Pole Sup R</div>
<div style="left:130.2px;top:1124.6px;width:18.1px;height:13.7px;background:#fff9ed"></div>
<div style="left:152.9px;top:1124.6px;width:18.1px;height:13.7px;background:#ffffff"></div>
<div style="left:175.6px;top:1124.6px;width:18.1px;height:13.7px;background:#ffffff"></div>
<div style="left:198.3px;top:1124.6px;width:18.1px;height:13.7px;background:#ffffff"></div>
<div style="left:221px;top:1124.6px;width:18.1px;height:13.7px;background:#ffffff"></div>
<div style="left:243.7px;top:1124.6px;width:18.1px;height:13.7px;background:#ffffff"></div>
<div class="tk" style="left:121.8px;top:1131px;width:3.5px;height:1px"></div>
<div class="t rl" style="right:630.2px;top:1126.5px">Temp Pol Mid L</div>
<div style="left:130.2px;top:1138.25px;width:18.1px;height:13.7px;background:#ffffff"></div>
<div style="left:152.9px;top:1138.25px;width:18.1px;height:13.7px;background:#fff9ed"></div>
<div style="left:175.6px;top:1138.25px;width:18.1px;height:13.7px;background:#ffffff"></div>
<div style="left:198.3px;top:1138.25px;width:18.1px;height:13.7px;background:#ffffff"></div>
<div style="left:221px;top:1138.25px;width:18.1px;height:13.7px;background:#ffffff"></div>
<div style="left:243.7px;top:1138.25px;width:18.1px;height:13.7px;background:#ffffff"></div>
<div class="tk" style="left:121.8px;top:1145px;width:3.5px;height:1px"></div>
<div class="t rl" style="right:630.2px;top:1140.15px">Temp Inf L</div>
<div style="left:130.2px;top:1151.9px;width:18.1px;height:13.7px;background:#ffffff"></div>
<div style="left:152.9px;top:1151.9px;width:18.1px;height:13.7px;background:#fff4db"></div>
<div style="left:175.6px;top:1151.9px;width:18.1px;height:13.7px;background:#ffffff"></div>
<div style="left:198.3px;top:1151.9px;width:18.1px;height:13.7px;background:#ffffff"></div>
<div style="left:221px;top:1151.9px;width:18.1px;height:13.7px;background:#ffffff"></div>
<div style="left:243.7px;top:1151.9px;width:18.1px;height:13.7px;background:#ffffff"></div>
<div class="tk" style="left:121.8px;top:1158px;width:3.5px;height:1px"></div>
<div class="t rl" style="right:630.2px;top:1153.8px">Temp Inf R</div>
<div style="left:130.2px;top:1165.55px;width:18.1px;height:13.7px;background:#fff9ed"></div>
<div style="left:152.9px;top:1165.55px;width:18.1px;height:13.7px;background:#fff4db"></div>
<div style="left:175.6px;top:1165.55px;width:18.1px;height:13.7px;background:#ffffff"></div>
<div style="left:198.3px;top:1165.55px;width:18.1px;height:13.7px;background:#fff9ed"></div>
<div style="left:221px;top:1165.55px;width:18.1px;height:13.7px;background:#ffffff"></div>
<div style="left:243.7px;top:1165.55px;width:18.1px;height:13.7px;background:#ffffff"></div>
<div class="tk" style="left:121.8px;top:1172px;width:3.5px;height:1px"></div>
<div class="t rl" style="right:630.2px;top:1167.45px">Cereb 4 5 L</div>
<div style="left:130.2px;top:1179.2px;width:18.1px;height:13.7px;background:#ffffff"></div>
<div style="left:152.9px;top:1179.2px;width:18.1px;height:13.7px;background:#ffffff"></div>
<div style="left:175.6px;top:1179.2px;width:18.1px;height:13.7px;background:#ffffff"></div>
<div style="left:198.3px;top:1179.2px;width:18.1px;height:13.7px;background:#ffffff"></div>
<div style="left:221px;top:1179.2px;width:18.1px;height:13.7px;background:#fff4db"></div>
<div style="left:243.7px;top:1179.2px;width:18.1px;height:13.7px;background:#ffffff"></div>
<div class="tk" style="left:121.8px;top:1186px;width:3.5px;height:1px"></div>
<div class="t rl" style="right:630.2px;top:1181.1px">Cereb 9 L</div>
<div class="tk" style="left:139px;top:1194.05px;width:1px;height:3px"></div>
<div class="t cl" style="left:119.45px;top:1199.52px;width:40px;text-align:center">GE</div>
<div class="tk" style="left:162px;top:1194.05px;width:1px;height:3px"></div>
<div class="t cl" style="left:142.15px;top:1199.52px;width:40px;text-align:center">LE</div>
<div class="tk" style="left:184px;top:1194.05px;width:1px;height:3px"></div>
<div class="t cl" style="left:164.85px;top:1199.52px;width:40px;text-align:center">D</div>
<div class="tk" style="left:207px;top:1194.05px;width:1px;height:3px"></div>
<div class="t cl" style="left:187.55px;top:1199.52px;width:40px;text-align:center">Srt</div>
<div class="tk" style="left:230px;top:1194.05px;width:1px;height:3px"></div>
<div class="t cl" style="left:210.25px;top:1199.52px;width:40px;text-align:center">CC</div>
<div class="tk" style="left:252px;top:1194.05px;width:1px;height:3px"></div>
<div class="t cl" style="left:232.95px;top:1199.52px;width:40px;text-align:center">BC</div>
<div class="t pt" style="left:277.86px;top:503.94px">CBS</div>
<div class="bx" style="left:273.5px;top:522.4px;width:233.1px;height:411.1px"></div>
<div class="st" style="left:389.6px;top:523.7px;width:115.7px;height:391.54px"></div>
<div class="gl" style="left:389.6px;top:530px;width:115.7px;height:1px"></div>
<div class="gl" style="left:389.6px;top:544px;width:115.7px;height:1px"></div>
<div class="gl" style="left:389.6px;top:558px;width:115.7px;height:1px"></div>
<div class="gl" style="left:389.6px;top:572px;width:115.7px;height:1px"></div>
<div class="gl" style="left:389.6px;top:586px;width:115.7px;height:1px"></div>
<div class="gl" style="left:389.6px;top:600px;width:115.7px;height:1px"></div>
<div class="gl" style="left:389.6px;top:614px;width:115.7px;height:1px"></div>
<div class="gl" style="left:389.6px;top:628px;width:115.7px;height:1px"></div>
<div class="gl" style="left:389.6px;top:642px;width:115.7px;height:1px"></div>
<div class="gl" style="left:389.6px;top:656px;width:115.7px;height:1px"></div>
<div class="gl" style="left:389.6px;top:670px;width:115.7px;height:1px"></div>
<div class="gl" style="left:389.6px;top:684px;width:115.7px;height:1px"></div>
<div class="gl" style="left:389.6px;top:698px;width:115.7px;height:1px"></div>
<div class="gl" style="left:389.6px;top:712px;width:115.7px;height:1px"></div>
<div class="gl" style="left:389.6px;top:725px;width:115.7px;height:1px"></div>
<div class="gl" style="left:389.6px;top:739px;width:115.7px;height:1px"></div>
<div class="gl" style="left:389.6px;top:753px;width:115.7px;height:1px"></div>
<div class="gl" style="left:389.6px;top:767px;width:115.7px;height:1px"></div>
<div class="gl" style="left:389.6px;top:781px;width:115.7px;height:1px"></div>
<div class="gl" style="left:389.6px;top:795px;width:115.7px;height:1px"></div>
<div class="gl" style="left:389.6px;top:809px;width:115.7px;height:1px"></div>
<div class="gl" style="left:389.6px;top:823px;width:115.7px;height:1px"></div>
<div class="gl" style="left:389.6px;top:837px;width:115.7px;height:1px"></div>
<div class="gl" style="left:389.6px;top:851px;width:115.7px;height:1px"></div>
<div class="gl" style="left:389.6px;top:865px;width:115.7px;height:1px"></div>
<div class="gl" style="left:389.6px;top:879px;width:115.7px;height:1px"></div>
<div class="gl" style="left:389.6px;top:893px;width:115.7px;height:1px"></div>
<div class="gl" style="left:389.6px;top:907px;width:115.7px;height:1px"></div>
<div style="left:393.9px;top:524px;width:17.8px;height:13.98px;background:#ffecc2"></div>
<div style="left:416.4px;top:524px;width:17.8px;height:13.98px;background:#ffecc2"></div>
<div style="left:438.9px;top:524px;width:17.8px;height:13.98px;background:#ffffff"></div>
<div style="left:461.4px;top:524px;width:17.8px;height:13.98px;background:#ffecc2"></div>
<div style="left:483.9px;top:524px;width:17.8px;height:13.98px;background:#ffffff"></div>
<div class="tk" style="left:385.4px;top:530px;width:3.5px;height:1px"></div>
<div class="t rl" style="right:366.6px;top:526.04px">Precentral L</div>
<div style="left:393.9px;top:537.93px;width:17.8px;height:13.98px;background:#ffe3a3"></div>
<div style="left:416.4px;top:537.93px;width:17.8px;height:13.98px;background:#ffcd5e"></div>
<div style="left:438.9px;top:537.93px;width:17.8px;height:13.98px;background:#fff4db"></div>
<div style="left:461.4px;top:537.93px;width:17.8px;height:13.98px;background:#ffe3a3"></div>
<div style="left:483.9px;top:537.93px;width:17.8px;height:13.98px;background:#ffffff"></div>
<div class="tk" style="left:385.4px;top:544px;width:3.5px;height:1px"></div>
<div class="t rl" style="right:366.6px;top:539.97px">Precentral R</div>
<div style="left:393.9px;top:551.86px;width:17.8px;height:13.98px;background:#fff4db"></div>
<div style="left:416.4px;top:551.86px;width:17.8px;height:13.98px;background:#fff4db"></div>
<div style="left:438.9px;top:551.86px;width:17.8px;height:13.98px;background:#ffffff"></div>
<div style="left:461.4px;top:551.86px;width:17.8px;height:13.98px;background:#fff4db"></div>
<div style="left:483.9px;top:551.86px;width:17.8px;height:13.98px;background:#ffffff"></div>
<div class="tk" style="left:385.4px;top:558px;width:3.5px;height:1px"></div>
<div class="t rl" style="right:366.6px;top:553.9px">Fr Sup L</div>
<div style="left:393.9px;top:565.79px;width:17.8px;height:13.98px;background:#ffecc2"></div>
<div style="left:416.4px;top:565.79px;width:17.8px;height:13.98px;background:#fff4db"></div>
<div style="left:438.9px;top:565.79px;width:17.8px;height:13.98px;background:#ffecc2"></div>
<div style="left:461.4px;top:565.79px;width:17.8px;height:13.98px;background:#ffecc2"></div>
<div style="left:483.9px;top:565.79px;width:17.8px;height:13.98px;background:#ffffff"></div>
<div class="tk" style="left:385.4px;top:572px;width:3.5px;height:1px"></div>
<div class="t rl" style="right:366.6px;top:567.83px">Fr Sup R</div>
<div style="left:393.9px;top:579.72px;width:17.8px;height:13.98px;background:#fff4db"></div>
<div style="left:416.4px;top:579.72px;width:17.8px;height:13.98px;background:#ffe3a3"></div>
<div style="left:438.9px;top:579.72px;width:17.8px;height:13.98px;background:#ffffff"></div>
<div style="left:461.4px;top:579.72px;width:17.8px;height:13.98px;background:#fff4db"></div>
<div style="left:483.9px;top:579.72px;width:17.8px;height:13.98px;background:#ffffff"></div>
<div class="tk" style="left:385.4px;top:586px;width:3.5px;height:1px"></div>
<div class="t rl" style="right:366.6px;top:581.76px">Fr Mid R</div>
<div style="left:393.9px;top:593.65px;width:17.8px;height:13.98px;background:#ffffff"></div>
<div style="left:416.4px;top:593.65px;width:17.8px;height:13.98px;background:#fff4db"></div>
<div style="left:438.9px;top:593.65px;width:17.8px;height:13.98px;background:#ffffff"></div>
<div style="left:461.4px;top:593.65px;width:17.8px;height:13.98px;background:#ffffff"></div>
<div style="left:483.9px;top:593.65px;width:17.8px;height:13.98px;background:#ffffff"></div>
<div class="tk" style="left:385.4px;top:600px;width:3.5px;height:1px"></div>
<div class="t rl" style="right:366.6px;top:595.69px">Fr Mid Orb R</div>
<div style="left:393.9px;top:607.58px;width:17.8px;height:13.98px;background:#fff4db"></div>
<div style="left:416.4px;top:607.58px;width:17.8px;height:13.98px;background:#ffe3a3"></div>
<div style="left:438.9px;top:607.58px;width:17.8px;height:13.98px;background:#fff4db"></div>
<div style="left:461.4px;top:607.58px;width:17.8px;height:13.98px;background:#fff4db"></div>
<div style="left:483.9px;top:607.58px;width:17.8px;height:13.98px;background:#ffffff"></div>
<div class="tk" style="left:385.4px;top:614px;width:3.5px;height:1px"></div>
<div class="t rl" style="right:366.6px;top:609.62px">Fr Inf Tri R</div>
<div style="left:393.9px;top:621.51px;width:17.8px;height:13.98px;background:#ffecc2"></div>
<div style="left:416.4px;top:621.51px;width:17.8px;height:13.98px;background:#fff4db"></div>
<div style="left:438.9px;top:621.51px;width:17.8px;height:13.98px;background:#ffecc2"></div>
<div style="left:461.4px;top:621.51px;width:17.8px;height:13.98px;background:#ffecc2"></div>
<div style="left:483.9px;top:621.51px;width:17.8px;height:13.98px;background:#ffffff"></div>
<div class="tk" style="left:385.4px;top:628px;width:3.5px;height:1px"></div>
<div class="t rl" style="right:366.6px;top:623.55px">Fr Inf Orb L</div>
<div style="left:393.9px;top:635.44px;width:17.8px;height:13.98px;background:#ffecc2"></div>
<div style="left:416.4px;top:635.44px;width:17.8px;height:13.98px;background:#ffecc2"></div>
<div style="left:438.9px;top:635.44px;width:17.8px;height:13.98px;background:#ffecc2"></div>
<div style="left:461.4px;top:635.44px;width:17.8px;height:13.98px;background:#ffecc2"></div>
<div style="left:483.9px;top:635.44px;width:17.8px;height:13.98px;background:#ffffff"></div>
<div class="tk" style="left:385.4px;top:642px;width:3.5px;height:1px"></div>
<div class="t rl" style="right:366.6px;top:637.48px">Fr Inf Orb R</div>
<div style="left:393.9px;top:649.37px;width:17.8px;height:13.98px;background:#ffecc2"></div>
<div style="left:416.4px;top:649.37px;width:17.8px;height:13.98px;background:#fff4db"></div>
<div style="left:438.9px;top:649.37px;width:17.8px;height:13.98px;background:#ffffff"></div>
<div style="left:461.4px;top:649.37px;width:17.8px;height:13.98px;background:#ffecc2"></div>
<div style="left:483.9px;top:649.37px;width:17.8px;height:13.98px;background:#ffffff"></div>
<div class="tk" style="left:385.4px;top:656px;width:3.5px;height:1px"></div>
<div class="t rl" style="right:366.6px;top:651.41px">Fr Sup Med L</div>
<div style="left:393.9px;top:663.3px;width:17.8px;height:13.98px;background:#ffd880"></div>
<div style="left:416.4px;top:663.3px;width:17.8px;height:13.98px;background:#ffe3a3"></div>
<div style="left:438.9px;top:663.3px;width:17.8px;height:13.98px;background:#ffe3a3"></div>
<div style="left:461.4px;top:663.3px;width:17.8px;height:13.98px;background:#ffd880"></div>
<div style="left:483.9px;top:663.3px;width:17.8px;height:13.98px;background:#ffffff"></div>
<div class="tk" style="left:385.4px;top:670px;width:3.5px;height:1px"></div>
<div class="t rl" style="right:366.6px;top:665.34px">Supp Motor L</div>
<div style="left:393.9px;top:677.23px;width:17.8px;height:13.98px;background:#ffd880"></div>
<div style="left:416.4px;top:677.23px;width:17.8px;height:13.98px;background:#ffecc2"></div>
<div style="left:438.9px;top:677.23px;width:17.8px;height:13.98px;background:#ffecc2"></div>
<div style="left:461.4px;top:677.23px;width:17.8px;height:13.98px;background:#ffd880"></div>
<div style="left:483.9px;top:677.23px;width:17.8px;height:13.98px;background:#ffffff"></div>
<div class="tk" style="left:385.4px;top:684px;width:3.5px;height:1px"></div>
<div class="t rl" style="right:366.6px;top:679.27px">Supp Motor R</div>
<div style="left:393.9px;top:691.16px;width:17.8px;height:13.98px;background:#fff4db"></div>
<div style="left:416.4px;top:691.16px;width:17.8px;height:13.98px;background:#ffecc2"></div>
<div style="left:438.9px;top:691.16px;width:17.8px;height:13.98px;background:#fff4db"></div>
<div style="left:461.4px;top:691.16px;width:17.8px;height:13.98px;background:#fff4db"></div>
<div style="left:483.9px;top:691.16px;width:17.8px;height:13.98px;background:#ffffff"></div>
<div class="tk" style="left:385.4px;top:698px;width:3.5px;height:1px"></div>
<div class="t rl" style="right:366.6px;top:693.2px">Olfactory L</div>
<div style="left:393.9px;top:705.09px;width:17.8px;height:13.98px;background:#fff4db"></div>
<div style="left:416.4px;top:705.09px;width:17.8px;height:13.98px;background:#ffffff"></div>
<div style="left:438.9px;top:705.09px;width:17.8px;height:13.98px;background:#ffffff"></div>
<div style="left:461.4px;top:705.09px;width:17.8px;height:13.98px;background:#fff4db"></div>
<div style="left:483.9px;top:705.09px;width:17.8px;height:13.98px;background:#ffffff"></div>
<div class="tk" style="left:385.4px;top:712px;width:3.5px;height:1px"></div>
<div class="t rl" style="right:366.6px;top:707.13px">Rectus L</div>
<div style="left:393.9px;top:719.02px;width:17.8px;height:13.98px;background:#fff4db"></div>
<div style="left:416.4px;top:719.02px;width:17.8px;height:13.98px;background:#fff4db"></div>
<div style="left:438.9px;top:719.02px;width:17.8px;height:13.98px;background:#ffffff"></div>
<div style="left:461.4px;top:719.02px;width:17.8px;height:13.98px;background:#fff4db"></div>
<div style="left:483.9px;top:719.02px;width:17.8px;height:13.98px;background:#ffffff"></div>
<div class="tk" style="left:385.4px;top:725px;width:3.5px;height:1px"></div>
<div class="t rl" style="right:366.6px;top:721.06px">Insula R</div>
<div style="left:393.9px;top:732.95px;width:17.8px;height:13.98px;background:#ffffff"></div>
<div style="left:416.4px;top:732.95px;width:17.8px;height:13.98px;background:#ffecc2"></div>
<div style="left:438.9px;top:732.95px;width:17.8px;height:13.98px;background:#ffffff"></div>
<div style="left:461.4px;top:732.95px;width:17.8px;height:13.98px;background:#ffffff"></div>
<div style="left:483.9px;top:732.95px;width:17.8px;height:13.98px;background:#ffffff"></div>
<div class="tk" style="left:385.4px;top:739px;width:3.5px;height:1px"></div>
<div class="t rl" style="right:366.6px;top:734.99px">Cing Mid L</div>
<div style="left:393.9px;top:746.88px;width:17.8px;height:13.98px;background:#ffffff"></div>
<div style="left:416.4px;top:746.88px;width:17.8px;height:13.98px;background:#fff4db"></div>
<div style="left:438.9px;top:746.88px;width:17.8px;height:13.98px;background:#ffffff"></div>
<div style="left:461.4px;top:746.88px;width:17.8px;height:13.98px;background:#ffffff"></div>
<div style="left:483.9px;top:746.88px;width:17.8px;height:13.98px;background:#ffffff"></div>
<div class="tk" style="left:385.4px;top:753px;width:3.5px;height:1px"></div>
<div class="t rl" style="right:366.6px;top:748.92px">Cing Mid R</div>
<div style="left:393.9px;top:760.81px;width:17.8px;height:13.98px;background:#ffe3a3"></div>
<div style="left:416.4px;top:760.81px;width:17.8px;height:13.98px;background:#ffffff"></div>
<div style="left:438.9px;top:760.81px;width:17.8px;height:13.98px;background:#ffecc2"></div>
<div style="left:461.4px;top:760.81px;width:17.8px;height:13.98px;background:#ffe3a3"></div>
<div style="left:483.9px;top:760.81px;width:17.8px;height:13.98px;background:#ffffff"></div>
<div class="tk" style="left:385.4px;top:767px;width:3.5px;height:1px"></div>
<div class="t rl" style="right:366.6px;top:762.85px">Postcentral R</div>
<div style="left:393.9px;top:774.74px;width:17.8px;height:13.98px;background:#ffecc2"></div>
<div style="left:416.4px;top:774.74px;width:17.8px;height:13.98px;background:#ffffff"></div>
<div style="left:438.9px;top:774.74px;width:17.8px;height:13.98px;background:#fff4db"></div>
<div style="left:461.4px;top:774.74px;width:17.8px;height:13.98px;background:#ffecc2"></div>
<div style="left:483.9px;top:774.74px;width:17.8px;height:13.98px;background:#ffffff"></div>
<div class="tk" style="left:385.4px;top:781px;width:3.5px;height:1px"></div>
<div class="t rl" style="right:366.6px;top:776.78px">Parietal Sup R</div>
<div style="left:393.9px;top:788.67px;width:17.8px;height:13.98px;background:#fff4db"></div>
<div style="left:416.4px;top:788.67px;width:17.8px;height:13.98px;background:#ffffff"></div>
<div style="left:438.9px;top:788.67px;width:17.8px;height:13.98px;background:#ffffff"></div>
<div style="left:461.4px;top:788.67px;width:17.8px;height:13.98px;background:#fff4db"></div>
<div style="left:483.9px;top:788.67px;width:17.8px;height:13.98px;background:#ffffff"></div>
<div class="tk" style="left:385.4px;top:795px;width:3.5px;height:1px"></div>
<div class="t rl" style="right:366.6px;top:790.71px">Parietal Inf R</div>
<div style="left:393.9px;top:802.6px;width:17.8px;height:13.98px;background:#ffffff"></div>
<div style="left:416.4px;top:802.6px;width:17.8px;height:13.98px;background:#fff4db"></div>
<div style="left:438.9px;top:802.6px;width:17.8px;height:13.98px;background:#ffffff"></div>
<div style="left:461.4px;top:802.6px;width:17.8px;height:13.98px;background:#ffffff"></div>
<div style="left:483.9px;top:802.6px;width:17.8px;height:13.98px;background:#ffffff"></div>
<div class="tk" style="left:385.4px;top:809px;width:3.5px;height:1px"></div>
<div class="t rl" style="right:366.6px;top:804.64px">Paracentral Lob L</div>
<div style="left:393.9px;top:816.53px;width:17.8px;height:13.98px;background:#ffffff"></div>
<div style="left:416.4px;top:816.53px;width:17.8px;height:13.98px;background:#ffffff"></div>
<div style="left:438.9px;top:816.53px;width:17.8px;height:13.98px;background:#ff9e00"></div>
<div style="left:461.4px;top:816.53px;width:17.8px;height:13.98px;background:#ffffff"></div>
<div style="left:483.9px;top:816.53px;width:17.8px;height:13.98px;background:#ffecc2"></div>
<div class="tk" style="left:385.4px;top:823px;width:3.5px;height:1px"></div>
<div class="t rl" style="right:366.6px;top:818.57px">Thalamus L</div>
<div style="left:393.9px;top:830.46px;width:17.8px;height:13.98px;background:#ffffff"></div>
<div style="left:416.4px;top:830.46px;width:17.8px;height:13.98px;background:#fff4db"></div>
<div style="left:438.9px;top:830.46px;width:17.8px;height:13.98px;background:#ffffff"></div>
<div style="left:461.4px;top:830.46px;width:17.8px;height:13.98px;background:#ffffff"></div>
<div style="left:483.9px;top:830.46px;width:17.8px;height:13.98px;background:#ffffff"></div>
<div class="tk" style="left:385.4px;top:837px;width:3.5px;height:1px"></div>
<div class="t rl" style="right:366.6px;top:832.5px">Temp Sup L</div>
<div style="left:393.9px;top:844.39px;width:17.8px;height:13.98px;background:#ffecc2"></div>
<div style="left:416.4px;top:844.39px;width:17.8px;height:13.98px;background:#ffffff"></div>
<div style="left:438.9px;top:844.39px;width:17.8px;height:13.98px;background:#ffecc2"></div>
<div style="left:461.4px;top:844.39px;width:17.8px;height:13.98px;background:#ffecc2"></div>
<div style="left:483.9px;top:844.39px;width:17.8px;height:13.98px;background:#ffffff"></div>
<div class="tk" style="left:385.4px;top:851px;width:3.5px;height:1px"></div>
<div class="t rl" style="right:366.6px;top:846.43px">Temp Pole Sup L</div>
<div style="left:393.9px;top:858.32px;width:17.8px;height:13.98px;background:#ffecc2"></div>
<div style="left:416.4px;top:858.32px;width:17.8px;height:13.98px;background:#ffffff"></div>
<div style="left:438.9px;top:858.32px;width:17.8px;height:13.98px;background:#ffecc2"></div>
<div style="left:461.4px;top:858.32px;width:17.8px;height:13.98px;background:#ffecc2"></div>
<div style="left:483.9px;top:858.32px;width:17.8px;height:13.98px;background:#ffffff"></div>
<div class="tk" style="left:385.4px;top:865px;width:3.5px;height:1px"></div>
<div class="t rl" style="right:366.6px;top:860.36px">Temp Pole Sup R</div>
<div style="left:393.9px;top:872.25px;width:17.8px;height:13.98px;background:#ffffff"></div>
<div style="left:416.4px;top:872.25px;width:17.8px;height:13.98px;background:#ffecc2"></div>
<div style="left:438.9px;top:872.25px;width:17.8px;height:13.98px;background:#ffffff"></div>
<div style="left:461.4px;top:872.25px;width:17.8px;height:13.98px;background:#ffffff"></div>
<div style="left:483.9px;top:872.25px;width:17.8px;height:13.98px;background:#ffecc2"></div>
<div class="tk" style="left:385.4px;top:879px;width:3.5px;height:1px"></div>
<div class="t rl" style="right:366.6px;top:874.29px">Temp Mid R</div>
<div style="left:393.9px;top:886.18px;width:17.8px;height:13.98px;background:#ffffff"></div>
<div style="left:416.4px;top:886.18px;width:17.8px;height:13.98px;background:#ffffff"></div>
<div style="left:438.9px;top:886.18px;width:17.8px;height:13.98px;background:#ffffff"></div>
<div style="left:461.4px;top:886.18px;width:17.8px;height:13.98px;background:#ffecc2"></div>
<div style="left:483.9px;top:886.18px;width:17.8px;height:13.98px;background:#ffffff"></div>
<div class="tk" style="left:385.4px;top:893px;width:3.5px;height:1px"></div>
<div class="t rl" style="right:366.6px;top:888.22px">Temp Pol Mid L</div>
<div style="left:393.9px;top:900.11px;width:17.8px;height:13.98px;background:#ffecc2"></div>
<div style="left:416.4px;top:900.11px;width:17.8px;height:13.98px;background:#ffffff"></div>
<div style="left:438.9px;top:900.11px;width:17.8px;height:13.98px;background:#ffffff"></div>
<div style="left:461.4px;top:900.11px;width:17.8px;height:13.98px;background:#ffffff"></div>
<div style="left:483.9px;top:900.11px;width:17.8px;height:13.98px;background:#ffffff"></div>
<div class="tk" style="left:385.4px;top:907px;width:3.5px;height:1px"></div>
<div class="t rl" style="right:366.6px;top:902.15px">Temp Pol Mid R</div>
<div class="tk" style="left:403px;top:915.24px;width:1px;height:3px"></div>
<div class="t cl" style="left:383px;top:920.71px;width:40px;text-align:center">GE</div>
<div class="tk" style="left:425px;top:915.24px;width:1px;height:3px"></div>
<div class="t cl" style="left:405.5px;top:920.71px;width:40px;text-align:center">LE</div>
<div class="tk" style="left:448px;top:915.24px;width:1px;height:3px"></div>
<div class="t cl" style="left:428px;top:920.71px;width:40px;text-align:center">D</div>
<div class="tk" style="left:470px;top:915.24px;width:1px;height:3px"></div>
<div class="t cl" style="left:450.5px;top:920.71px;width:40px;text-align:center">Srt</div>
<div class="tk" style="left:493px;top:915.24px;width:1px;height:3px"></div>
<div class="t cl" style="left:473px;top:920.71px;width:40px;text-align:center">CC</div>
<div class="t pt" style="left:276.97px;top:951.74px">nfvPPA</div>
<div class="bx" style="left:273.4px;top:971.1px;width:152.1px;height:77.9px"></div>
<div class="st" style="left:353px;top:972.4px;width:71.2px;height:58.7px"></div>
<div class="gl" style="left:353px;top:980px;width:71.2px;height:1px"></div>
<div class="gl" style="left:353px;top:994px;width:71.2px;height:1px"></div>
<div class="gl" style="left:353px;top:1008px;width:71.2px;height:1px"></div>
<div class="gl" style="left:353px;top:1022px;width:71.2px;height:1px"></div>
<div style="left:357.3px;top:973.5px;width:17.9px;height:14.15px;background:#ffe3a3"></div>
<div style="left:379.9px;top:973.5px;width:17.9px;height:14.15px;background:#ffffff"></div>
<div style="left:402.5px;top:973.5px;width:17.9px;height:14.15px;background:#ffffff"></div>
<div class="tk" style="left:348.8px;top:980px;width:3.5px;height:1px"></div>
<div class="t rl" style="right:403.2px;top:975.62px">Precentral L</div>
<div style="left:357.3px;top:987.6px;width:17.9px;height:14.15px;background:#ffffff"></div>
<div style="left:379.9px;top:987.6px;width:17.9px;height:14.15px;background:#ffecc2"></div>
<div style="left:402.5px;top:987.6px;width:17.9px;height:14.15px;background:#ffffff"></div>
<div class="tk" style="left:348.8px;top:994px;width:3.5px;height:1px"></div>
<div class="t rl" style="right:403.2px;top:989.72px">Fr Sup R</div>
<div style="left:357.3px;top:1001.7px;width:17.9px;height:14.15px;background:#ffffff"></div>
<div style="left:379.9px;top:1001.7px;width:17.9px;height:14.15px;background:#ffecc2"></div>
<div style="left:402.5px;top:1001.7px;width:17.9px;height:14.15px;background:#ffffff"></div>
<div class="tk" style="left:348.8px;top:1008px;width:3.5px;height:1px"></div>
<div class="t rl" style="right:403.2px;top:1003.82px">Fr Mid R</div>
<div style="left:357.3px;top:1015.8px;width:17.9px;height:14.15px;background:#ffffff"></div>
<div style="left:379.9px;top:1015.8px;width:17.9px;height:14.15px;background:#ffffff"></div>
<div style="left:402.5px;top:1015.8px;width:17.9px;height:14.15px;background:#ffe3a3"></div>
<div class="tk" style="left:348.8px;top:1022px;width:3.5px;height:1px"></div>
<div class="t rl" style="right:403.2px;top:1017.92px">Temp Mid R</div>
<div class="tk" style="left:366px;top:1031.1px;width:1px;height:3px"></div>
<div class="t cl" style="left:346.45px;top:1036.57px;width:40px;text-align:center">LE</div>
<div class="tk" style="left:389px;top:1031.1px;width:1px;height:3px"></div>
<div class="t cl" style="left:369.05px;top:1036.57px;width:40px;text-align:center">Srt</div>
<div class="tk" style="left:411px;top:1031.1px;width:1px;height:3px"></div>
<div class="t cl" style="left:391.65px;top:1036.57px;width:40px;text-align:center">CC</div>
<div class="t pt" style="left:519.28px;top:504.74px">PSP</div>
<div class="bx" style="left:514.8px;top:522.6px;width:233.1px;height:335.1px"></div>
<div class="st" style="left:632px;top:523.9px;width:114.6px;height:315.25px"></div>
<div class="gl" style="left:632px;top:530px;width:114.6px;height:1px"></div>
<div class="gl" style="left:632px;top:544px;width:114.6px;height:1px"></div>
<div class="gl" style="left:632px;top:558px;width:114.6px;height:1px"></div>
<div class="gl" style="left:632px;top:571px;width:114.6px;height:1px"></div>
<div class="gl" style="left:632px;top:585px;width:114.6px;height:1px"></div>
<div class="gl" style="left:632px;top:599px;width:114.6px;height:1px"></div>
<div class="gl" style="left:632px;top:612px;width:114.6px;height:1px"></div>
<div class="gl" style="left:632px;top:626px;width:114.6px;height:1px"></div>
<div class="gl" style="left:632px;top:640px;width:114.6px;height:1px"></div>
<div class="gl" style="left:632px;top:653px;width:114.6px;height:1px"></div>
<div class="gl" style="left:632px;top:667px;width:114.6px;height:1px"></div>
<div class="gl" style="left:632px;top:680px;width:114.6px;height:1px"></div>
<div class="gl" style="left:632px;top:694px;width:114.6px;height:1px"></div>
<div class="gl" style="left:632px;top:708px;width:114.6px;height:1px"></div>
<div class="gl" style="left:632px;top:721px;width:114.6px;height:1px"></div>
<div class="gl" style="left:632px;top:735px;width:114.6px;height:1px"></div>
<div class="gl" style="left:632px;top:749px;width:114.6px;height:1px"></div>
<div class="gl" style="left:632px;top:762px;width:114.6px;height:1px"></div>
<div class="gl" style="left:632px;top:776px;width:114.6px;height:1px"></div>
<div class="gl" style="left:632px;top:790px;width:114.6px;height:1px"></div>
<div class="gl" style="left:632px;top:803px;width:114.6px;height:1px"></div>
<div class="gl" style="left:632px;top:817px;width:114.6px;height:1px"></div>
<div class="gl" style="left:632px;top:831px;width:114.6px;height:1px"></div>
<div style="left:636.3px;top:524px;width:17.85px;height:13.7px;background:#ffffff"></div>
<div style="left:658.85px;top:524px;width:17.85px;height:13.7px;background:#fff4db"></div>
<div style="left:681.4px;top:524px;width:17.85px;height:13.7px;background:#ffffff"></div>
<div style="left:703.95px;top:524px;width:17.85px;height:13.7px;background:#ffffff"></div>
<div style="left:726.5px;top:524px;width:17.85px;height:13.7px;background:#ffffff"></div>
<div class="tk" style="left:627.8px;top:530px;width:3.5px;height:1px"></div>
<div class="t rl" style="right:124.2px;top:525.9px">Precentral L</div>
<div style="left:636.3px;top:537.65px;width:17.85px;height:13.7px;background:#ffecc2"></div>
<div style="left:658.85px;top:537.65px;width:17.85px;height:13.7px;background:#ffecc2"></div>
<div style="left:681.4px;top:537.65px;width:17.85px;height:13.7px;background:#ffffff"></div>
<div style="left:703.95px;top:537.65px;width:17.85px;height:13.7px;background:#ffecc2"></div>
<div style="left:726.5px;top:537.65px;width:17.85px;height:13.7px;background:#ffffff"></div>
<div class="tk" style="left:627.8px;top:544px;width:3.5px;height:1px"></div>
<div class="t rl" style="right:124.2px;top:539.55px">Precentral R</div>
<div style="left:636.3px;top:551.3px;width:17.85px;height:13.7px;background:#ffffff"></div>
<div style="left:658.85px;top:551.3px;width:17.85px;height:13.7px;background:#fff4db"></div>
<div style="left:681.4px;top:551.3px;width:17.85px;height:13.7px;background:#ffffff"></div>
<div style="left:703.95px;top:551.3px;width:17.85px;height:13.7px;background:#ffffff"></div>
<div style="left:726.5px;top:551.3px;width:17.85px;height:13.7px;background:#ffffff"></div>
<div class="tk" style="left:627.8px;top:558px;width:3.5px;height:1px"></div>
<div class="t rl" style="right:124.2px;top:553.2px">Fr Sup L</div>
<div style="left:636.3px;top:564.95px;width:17.85px;height:13.7px;background:#fff4db"></div>
<div style="left:658.85px;top:564.95px;width:17.85px;height:13.7px;background:#fff4db"></div>
<div style="left:681.4px;top:564.95px;width:17.85px;height:13.7px;background:#ffffff"></div>
<div style="left:703.95px;top:564.95px;width:17.85px;height:13.7px;background:#fff4db"></div>
<div style="left:726.5px;top:564.95px;width:17.85px;height:13.7px;background:#ffffff"></div>
<div class="tk" style="left:627.8px;top:571px;width:3.5px;height:1px"></div>
<div class="t rl" style="right:124.2px;top:566.85px">Fr Sup R</div>
<div style="left:636.3px;top:578.6px;width:17.85px;height:13.7px;background:#ffe3a3"></div>
<div style="left:658.85px;top:578.6px;width:17.85px;height:13.7px;background:#fff4db"></div>
<div style="left:681.4px;top:578.6px;width:17.85px;height:13.7px;background:#ffecc2"></div>
<div style="left:703.95px;top:578.6px;width:17.85px;height:13.7px;background:#ffe3a3"></div>
<div style="left:726.5px;top:578.6px;width:17.85px;height:13.7px;background:#ffffff"></div>
<div class="tk" style="left:627.8px;top:585px;width:3.5px;height:1px"></div>
<div class="t rl" style="right:124.2px;top:580.5px">Fr Mid R</div>
<div style="left:636.3px;top:592.25px;width:17.85px;height:13.7px;background:#ffffff"></div>
<div style="left:658.85px;top:592.25px;width:17.85px;height:13.7px;background:#ffd880"></div>
<div style="left:681.4px;top:592.25px;width:17.85px;height:13.7px;background:#ffffff"></div>
<div style="left:703.95px;top:592.25px;width:17.85px;height:13.7px;background:#ffffff"></div>
<div style="left:726.5px;top:592.25px;width:17.85px;height:13.7px;background:#ffffff"></div>
<div class="tk" style="left:627.8px;top:599px;width:3.5px;height:1px"></div>
<div class="t rl" style="right:124.2px;top:594.15px">Fr Mid Orb L</div>
<div style="left:636.3px;top:605.9px;width:17.85px;height:13.7px;background:#ffffff"></div>
<div style="left:658.85px;top:605.9px;width:17.85px;height:13.7px;background:#ffffff"></div>
<div style="left:681.4px;top:605.9px;width:17.85px;height:13.7px;background:#ffffff"></div>
<div style="left:703.95px;top:605.9px;width:17.85px;height:13.7px;background:#ffffff"></div>
<div style="left:726.5px;top:605.9px;width:17.85px;height:13.7px;background:#ffe3a3"></div>
<div class="tk" style="left:627.8px;top:612px;width:3.5px;height:1px"></div>
<div class="t rl" style="right:124.2px;top:607.8px">Fr Mid Orb R</div>
<div style="left:636.3px;top:619.55px;width:17.85px;height:13.7px;background:#ffffff"></div>
<div style="left:658.85px;top:619.55px;width:17.85px;height:13.7px;background:#ffffff"></div>
<div style="left:681.4px;top:619.55px;width:17.85px;height:13.7px;background:#ffffff"></div>
<div style="left:703.95px;top:619.55px;width:17.85px;height:13.7px;background:#ffffff"></div>
<div style="left:726.5px;top:619.55px;width:17.85px;height:13.7px;background:#fff4db"></div>
<div class="tk" style="left:627.8px;top:626px;width:3.5px;height:1px"></div>
<div class="t rl" style="right:124.2px;top:621.45px">Fr Inf Oper R</div>
<div style="left:636.3px;top:633.2px;width:17.85px;height:13.7px;background:#ffffff"></div>
<div style="left:658.85px;top:633.2px;width:17.85px;height:13.7px;background:#ffecc2"></div>
<div style="left:681.4px;top:633.2px;width:17.85px;height:13.7px;background:#ffffff"></div>
<div style="left:703.95px;top:633.2px;width:17.85px;height:13.7px;background:#ffffff"></div>
<div style="left:726.5px;top:633.2px;width:17.85px;height:13.7px;background:#ffffff"></div>
<div class="tk" style="left:627.8px;top:640px;width:3.5px;height:1px"></div>
<div class="t rl" style="right:124.2px;top:635.1px">Fr Inf Tri R</div>
<div style="left:636.3px;top:646.85px;width:17.85px;height:13.7px;background:#ffffff"></div>
<div style="left:658.85px;top:646.85px;width:17.85px;height:13.7px;background:#ffcd5e"></div>
<div style="left:681.4px;top:646.85px;width:17.85px;height:13.7px;background:#ffffff"></div>
<div style="left:703.95px;top:646.85px;width:17.85px;height:13.7px;background:#ffffff"></div>
<div style="left:726.5px;top:646.85px;width:17.85px;height:13.7px;background:#ffffff"></div>
<div class="tk" style="left:627.8px;top:653px;width:3.5px;height:1px"></div>
<div class="t rl" style="right:124.2px;top:648.75px">Supp Motor L</div>
<div style="left:636.3px;top:660.5px;width:17.85px;height:13.7px;background:#ffffff"></div>
<div style="left:658.85px;top:660.5px;width:17.85px;height:13.7px;background:#ffecc2"></div>
<div style="left:681.4px;top:660.5px;width:17.85px;height:13.7px;background:#ffffff"></div>
<div style="left:703.95px;top:660.5px;width:17.85px;height:13.7px;background:#ffffff"></div>
<div style="left:726.5px;top:660.5px;width:17.85px;height:13.7px;background:#ffffff"></div>
<div class="tk" style="left:627.8px;top:667px;width:3.5px;height:1px"></div>
<div class="t rl" style="right:124.2px;top:662.4px">Supp Motor R</div>
<div style="left:636.3px;top:674.15px;width:17.85px;height:13.7px;background:#ffecc2"></div>
<div style="left:658.85px;top:674.15px;width:17.85px;height:13.7px;background:#ffffff"></div>
<div style="left:681.4px;top:674.15px;width:17.85px;height:13.7px;background:#ffffff"></div>
<div style="left:703.95px;top:674.15px;width:17.85px;height:13.7px;background:#ffecc2"></div>
<div style="left:726.5px;top:674.15px;width:17.85px;height:13.7px;background:#ffffff"></div>
<div class="tk" style="left:627.8px;top:680px;width:3.5px;height:1px"></div>
<div class="t rl" style="right:124.2px;top:676.05px">Fr Med Orb L</div>
<div style="left:636.3px;top:687.8px;width:17.85px;height:13.7px;background:#ffffff"></div>
<div style="left:658.85px;top:687.8px;width:17.85px;height:13.7px;background:#fff4db"></div>
<div style="left:681.4px;top:687.8px;width:17.85px;height:13.7px;background:#ffffff"></div>
<div style="left:703.95px;top:687.8px;width:17.85px;height:13.7px;background:#ffffff"></div>
<div style="left:726.5px;top:687.8px;width:17.85px;height:13.7px;background:#fff4db"></div>
<div class="tk" style="left:627.8px;top:694px;width:3.5px;height:1px"></div>
<div class="t rl" style="right:124.2px;top:689.7px">Cing Mid R</div>
<div style="left:636.3px;top:701.45px;width:17.85px;height:13.7px;background:#ffffff"></div>
<div style="left:658.85px;top:701.45px;width:17.85px;height:13.7px;background:#fff4db"></div>
<div style="left:681.4px;top:701.45px;width:17.85px;height:13.7px;background:#ffffff"></div>
<div style="left:703.95px;top:701.45px;width:17.85px;height:13.7px;background:#ffffff"></div>
<div style="left:726.5px;top:701.45px;width:17.85px;height:13.7px;background:#ffffff"></div>
<div class="tk" style="left:627.8px;top:708px;width:3.5px;height:1px"></div>
<div class="t rl" style="right:124.2px;top:703.35px">ParaHipp L</div>
<div style="left:636.3px;top:715.1px;width:17.85px;height:13.7px;background:#ffffff"></div>
<div style="left:658.85px;top:715.1px;width:17.85px;height:13.7px;background:#ffecc2"></div>
<div style="left:681.4px;top:715.1px;width:17.85px;height:13.7px;background:#ffffff"></div>
<div style="left:703.95px;top:715.1px;width:17.85px;height:13.7px;background:#ffffff"></div>
<div style="left:726.5px;top:715.1px;width:17.85px;height:13.7px;background:#ffecc2"></div>
<div class="tk" style="left:627.8px;top:721px;width:3.5px;height:1px"></div>
<div class="t rl" style="right:124.2px;top:717px">Amygdala R</div>
<div style="left:636.3px;top:728.75px;width:17.85px;height:13.7px;background:#fff4db"></div>
<div style="left:658.85px;top:728.75px;width:17.85px;height:13.7px;background:#ffffff"></div>
<div style="left:681.4px;top:728.75px;width:17.85px;height:13.7px;background:#ffffff"></div>
<div style="left:703.95px;top:728.75px;width:17.85px;height:13.7px;background:#fff4db"></div>
<div style="left:726.5px;top:728.75px;width:17.85px;height:13.7px;background:#ffffff"></div>
<div class="tk" style="left:627.8px;top:735px;width:3.5px;height:1px"></div>
<div class="t rl" style="right:124.2px;top:730.65px">SupraMarginal R</div>
<div style="left:636.3px;top:742.4px;width:17.85px;height:13.7px;background:#ffffff"></div>
<div style="left:658.85px;top:742.4px;width:17.85px;height:13.7px;background:#fff4db"></div>
<div style="left:681.4px;top:742.4px;width:17.85px;height:13.7px;background:#ffffff"></div>
<div style="left:703.95px;top:742.4px;width:17.85px;height:13.7px;background:#ffffff"></div>
<div style="left:726.5px;top:742.4px;width:17.85px;height:13.7px;background:#ffffff"></div>
<div class="tk" style="left:627.8px;top:749px;width:3.5px;height:1px"></div>
<div class="t rl" style="right:124.2px;top:744.3px">Paracentral Lob L</div>
<div style="left:636.3px;top:756.05px;width:17.85px;height:13.7px;background:#ffffff"></div>
<div style="left:658.85px;top:756.05px;width:17.85px;height:13.7px;background:#ffffff"></div>
<div style="left:681.4px;top:756.05px;width:17.85px;height:13.7px;background:#ffffff"></div>
<div style="left:703.95px;top:756.05px;width:17.85px;height:13.7px;background:#ffffff"></div>
<div style="left:726.5px;top:756.05px;width:17.85px;height:13.7px;background:#ffecc2"></div>
<div class="tk" style="left:627.8px;top:762px;width:3.5px;height:1px"></div>
<div class="t rl" style="right:124.2px;top:757.95px">Thalamus L</div>
<div style="left:636.3px;top:769.7px;width:17.85px;height:13.7px;background:#fff4db"></div>
<div style="left:658.85px;top:769.7px;width:17.85px;height:13.7px;background:#ffffff"></div>
<div style="left:681.4px;top:769.7px;width:17.85px;height:13.7px;background:#ffffff"></div>
<div style="left:703.95px;top:769.7px;width:17.85px;height:13.7px;background:#fff4db"></div>
<div style="left:726.5px;top:769.7px;width:17.85px;height:13.7px;background:#ffffff"></div>
<div class="tk" style="left:627.8px;top:776px;width:3.5px;height:1px"></div>
<div class="t rl" style="right:124.2px;top:771.6px">Temp Pole Sup L</div>
<div style="left:636.3px;top:783.35px;width:17.85px;height:13.7px;background:#fff4db"></div>
<div style="left:658.85px;top:783.35px;width:17.85px;height:13.7px;background:#ffffff"></div>
<div style="left:681.4px;top:783.35px;width:17.85px;height:13.7px;background:#ffffff"></div>
<div style="left:703.95px;top:783.35px;width:17.85px;height:13.7px;background:#fff4db"></div>
<div style="left:726.5px;top:783.35px;width:17.85px;height:13.7px;background:#ffffff"></div>
<div class="tk" style="left:627.8px;top:790px;width:3.5px;height:1px"></div>
<div class="t rl" style="right:124.2px;top:785.25px">Temp Pole Sup R</div>
<div style="left:636.3px;top:797px;width:17.85px;height:13.7px;background:#fff4db"></div>
<div style="left:658.85px;top:797px;width:17.85px;height:13.7px;background:#ffecc2"></div>
<div style="left:681.4px;top:797px;width:17.85px;height:13.7px;background:#ffffff"></div>
<div style="left:703.95px;top:797px;width:17.85px;height:13.7px;background:#fff4db"></div>
<div style="left:726.5px;top:797px;width:17.85px;height:13.7px;background:#ffffff"></div>
<div class="tk" style="left:627.8px;top:803px;width:3.5px;height:1px"></div>
<div class="t rl" style="right:124.2px;top:798.9px">Temp Pol Mid L</div>
<div style="left:636.3px;top:810.65px;width:17.85px;height:13.7px;background:#ffecc2"></div>
<div style="left:658.85px;top:810.65px;width:17.85px;height:13.7px;background:#fff4db"></div>
<div style="left:681.4px;top:810.65px;width:17.85px;height:13.7px;background:#ffecc2"></div>
<div style="left:703.95px;top:810.65px;width:17.85px;height:13.7px;background:#ffecc2"></div>
<div style="left:726.5px;top:810.65px;width:17.85px;height:13.7px;background:#ffffff"></div>
<div class="tk" style="left:627.8px;top:817px;width:3.5px;height:1px"></div>
<div class="t rl" style="right:124.2px;top:812.55px">Temp Pol Mid R</div>
<div style="left:636.3px;top:824.3px;width:17.85px;height:13.7px;background:#ffffff"></div>
<div style="left:658.85px;top:824.3px;width:17.85px;height:13.7px;background:#fff4db"></div>
<div style="left:681.4px;top:824.3px;width:17.85px;height:13.7px;background:#ffffff"></div>
<div style="left:703.95px;top:824.3px;width:17.85px;height:13.7px;background:#ffffff"></div>
<div style="left:726.5px;top:824.3px;width:17.85px;height:13.7px;background:#ffffff"></div>
<div class="tk" style="left:627.8px;top:831px;width:3.5px;height:1px"></div>
<div class="t rl" style="right:124.2px;top:826.2px">Temp Inf R</div>
<div class="tk" style="left:645px;top:839.15px;width:1px;height:3px"></div>
<div class="t cl" style="left:625.42px;top:844.62px;width:40px;text-align:center">GE</div>
<div class="tk" style="left:667px;top:839.15px;width:1px;height:3px"></div>
<div class="t cl" style="left:647.97px;top:844.62px;width:40px;text-align:center">LE</div>
<div class="tk" style="left:690px;top:839.15px;width:1px;height:3px"></div>
<div class="t cl" style="left:670.52px;top:844.62px;width:40px;text-align:center">D</div>
<div class="tk" style="left:713px;top:839.15px;width:1px;height:3px"></div>
<div class="t cl" style="left:693.07px;top:844.62px;width:40px;text-align:center">Srt</div>
<div class="tk" style="left:735px;top:839.15px;width:1px;height:3px"></div>
<div class="t cl" style="left:715.62px;top:844.62px;width:40px;text-align:center">CC</div>
<div class="t pt" style="left:519.49px;top:876.74px">svPPA</div>
<div class="bx" style="left:514.8px;top:894.1px;width:205.6px;height:214.2px"></div>
<div class="st" style="left:604px;top:895.4px;width:115.1px;height:192.4px"></div>
<div class="gl" style="left:604px;top:902px;width:115.1px;height:1px"></div>
<div class="gl" style="left:604px;top:915px;width:115.1px;height:1px"></div>
<div class="gl" style="left:604px;top:929px;width:115.1px;height:1px"></div>
<div class="gl" style="left:604px;top:943px;width:115.1px;height:1px"></div>
<div class="gl" style="left:604px;top:956px;width:115.1px;height:1px"></div>
<div class="gl" style="left:604px;top:970px;width:115.1px;height:1px"></div>
<div class="gl" style="left:604px;top:984px;width:115.1px;height:1px"></div>
<div class="gl" style="left:604px;top:997px;width:115.1px;height:1px"></div>
<div class="gl" style="left:604px;top:1011px;width:115.1px;height:1px"></div>
<div class="gl" style="left:604px;top:1025px;width:115.1px;height:1px"></div>
<div class="gl" style="left:604px;top:1038px;width:115.1px;height:1px"></div>
<div class="gl" style="left:604px;top:1052px;width:115.1px;height:1px"></div>
<div class="gl" style="left:604px;top:1066px;width:115.1px;height:1px"></div>
<div class="gl" style="left:604px;top:1079px;width:115.1px;height:1px"></div>
<div style="left:608.1px;top:895.5px;width:17.95px;height:13.7px;background:#ffecc2"></div>
<div style="left:630.55px;top:895.5px;width:17.95px;height:13.7px;background:#ffffff"></div>
<div style="left:653px;top:895.5px;width:17.95px;height:13.7px;background:#ffecc2"></div>
<div style="left:675.45px;top:895.5px;width:17.95px;height:13.7px;background:#ffecc2"></div>
<div style="left:697.9px;top:895.5px;width:17.95px;height:13.7px;background:#ffffff"></div>
<div class="tk" style="left:599.8px;top:902px;width:3.5px;height:1px"></div>
<div class="t rl" style="right:152.2px;top:897.4px">Fr Sup Orb L</div>
<div style="left:608.1px;top:909.15px;width:17.95px;height:13.7px;background:#ffe3a3"></div>
<div style="left:630.55px;top:909.15px;width:17.95px;height:13.7px;background:#ffffff"></div>
<div style="left:653px;top:909.15px;width:17.95px;height:13.7px;background:#ffecc2"></div>
<div style="left:675.45px;top:909.15px;width:17.95px;height:13.7px;background:#ffe3a3"></div>
<div style="left:697.9px;top:909.15px;width:17.95px;height:13.7px;background:#ffffff"></div>
<div class="tk" style="left:599.8px;top:915px;width:3.5px;height:1px"></div>
<div class="t rl" style="right:152.2px;top:911.05px">Fr Sup Orb R</div>
<div style="left:608.1px;top:922.8px;width:17.95px;height:13.7px;background:#fff4db"></div>
<div style="left:630.55px;top:922.8px;width:17.95px;height:13.7px;background:#ffffff"></div>
<div style="left:653px;top:922.8px;width:17.95px;height:13.7px;background:#ffffff"></div>
<div style="left:675.45px;top:922.8px;width:17.95px;height:13.7px;background:#fff4db"></div>
<div style="left:697.9px;top:922.8px;width:17.95px;height:13.7px;background:#ffffff"></div>
<div class="tk" style="left:599.8px;top:929px;width:3.5px;height:1px"></div>
<div class="t rl" style="right:152.2px;top:924.7px">Fr Inf Orb R</div>
<div style="left:608.1px;top:936.45px;width:17.95px;height:13.7px;background:#fff4db"></div>
<div style="left:630.55px;top:936.45px;width:17.95px;height:13.7px;background:#ffffff"></div>
<div style="left:653px;top:936.45px;width:17.95px;height:13.7px;background:#ffffff"></div>
<div style="left:675.45px;top:936.45px;width:17.95px;height:13.7px;background:#fff4db"></div>
<div style="left:697.9px;top:936.45px;width:17.95px;height:13.7px;background:#ffffff"></div>
<div class="tk" style="left:599.8px;top:943px;width:3.5px;height:1px"></div>
<div class="t rl" style="right:152.2px;top:938.35px">Olfactory R</div>
<div style="left:608.1px;top:950.1px;width:17.95px;height:13.7px;background:#ffecc2"></div>
<div style="left:630.55px;top:950.1px;width:17.95px;height:13.7px;background:#ffffff"></div>
<div style="left:653px;top:950.1px;width:17.95px;height:13.7px;background:#ffffff"></div>
<div style="left:675.45px;top:950.1px;width:17.95px;height:13.7px;background:#ffecc2"></div>
<div style="left:697.9px;top:950.1px;width:17.95px;height:13.7px;background:#ffffff"></div>
<div class="tk" style="left:599.8px;top:956px;width:3.5px;height:1px"></div>
<div class="t rl" style="right:152.2px;top:952px">Fr Med Orb L</div>
<div style="left:608.1px;top:963.75px;width:17.95px;height:13.7px;background:#ffd880"></div>
<div style="left:630.55px;top:963.75px;width:17.95px;height:13.7px;background:#ffffff"></div>
<div style="left:653px;top:963.75px;width:17.95px;height:13.7px;background:#ffd880"></div>
<div style="left:675.45px;top:963.75px;width:17.95px;height:13.7px;background:#ffd880"></div>
<div style="left:697.9px;top:963.75px;width:17.95px;height:13.7px;background:#ffffff"></div>
<div class="tk" style="left:599.8px;top:970px;width:3.5px;height:1px"></div>
<div class="t rl" style="right:152.2px;top:965.65px">Rectus L</div>
<div style="left:608.1px;top:977.4px;width:17.95px;height:13.7px;background:#ffe3a3"></div>
<div style="left:630.55px;top:977.4px;width:17.95px;height:13.7px;background:#ffecc2"></div>
<div style="left:653px;top:977.4px;width:17.95px;height:13.7px;background:#ffecc2"></div>
<div style="left:675.45px;top:977.4px;width:17.95px;height:13.7px;background:#ffe3a3"></div>
<div style="left:697.9px;top:977.4px;width:17.95px;height:13.7px;background:#ffecc2"></div>
<div class="tk" style="left:599.8px;top:984px;width:3.5px;height:1px"></div>
<div class="t rl" style="right:152.2px;top:979.3px">Rectus R</div>
<div style="left:608.1px;top:991.05px;width:17.95px;height:13.7px;background:#f88c00"></div>
<div style="left:630.55px;top:991.05px;width:17.95px;height:13.7px;background:#ffffff"></div>
<div style="left:653px;top:991.05px;width:17.95px;height:13.7px;background:#f88c00"></div>
<div style="left:675.45px;top:991.05px;width:17.95px;height:13.7px;background:#f88c00"></div>
<div style="left:697.9px;top:991.05px;width:17.95px;height:13.7px;background:#ffffff"></div>
<div class="tk" style="left:599.8px;top:997px;width:3.5px;height:1px"></div>
<div class="t rl" style="right:152.2px;top:992.95px">Insula L</div>
<div style="left:608.1px;top:1004.7px;width:17.95px;height:13.7px;background:#f88c00"></div>
<div style="left:630.55px;top:1004.7px;width:17.95px;height:13.7px;background:#ffffff"></div>
<div style="left:653px;top:1004.7px;width:17.95px;height:13.7px;background:#f28400"></div>
<div style="left:675.45px;top:1004.7px;width:17.95px;height:13.7px;background:#f88c00"></div>
<div style="left:697.9px;top:1004.7px;width:17.95px;height:13.7px;background:#ffffff"></div>
<div class="tk" style="left:599.8px;top:1011px;width:3.5px;height:1px"></div>
<div class="t rl" style="right:152.2px;top:1006.6px">Hipp R</div>
<div style="left:608.1px;top:1018.35px;width:17.95px;height:13.7px;background:#fff4db"></div>
<div style="left:630.55px;top:1018.35px;width:17.95px;height:13.7px;background:#ffffff"></div>
<div style="left:653px;top:1018.35px;width:17.95px;height:13.7px;background:#ffffff"></div>
<div style="left:675.45px;top:1018.35px;width:17.95px;height:13.7px;background:#fff4db"></div>
<div style="left:697.9px;top:1018.35px;width:17.95px;height:13.7px;background:#ffffff"></div>
<div class="tk" style="left:599.8px;top:1025px;width:3.5px;height:1px"></div>
<div class="t rl" style="right:152.2px;top:1020.25px">ParaHipp L</div>
<div style="left:608.1px;top:1032px;width:17.95px;height:13.7px;background:#ffecc2"></div>
<div style="left:630.55px;top:1032px;width:17.95px;height:13.7px;background:#ffffff"></div>
<div style="left:653px;top:1032px;width:17.95px;height:13.7px;background:#fff4db"></div>
<div style="left:675.45px;top:1032px;width:17.95px;height:13.7px;background:#ffecc2"></div>
<div style="left:697.9px;top:1032px;width:17.95px;height:13.7px;background:#ffffff"></div>
<div class="tk" style="left:599.8px;top:1038px;width:3.5px;height:1px"></div>
<div class="t rl" style="right:152.2px;top:1033.9px">Caudate R</div>
<div style="left:608.1px;top:1045.65px;width:17.95px;height:13.7px;background:#fb9500"></div>
<div style="left:630.55px;top:1045.65px;width:17.95px;height:13.7px;background:#ffffff"></div>
<div style="left:653px;top:1045.65px;width:17.95px;height:13.7px;background:#fb9500"></div>
<div style="left:675.45px;top:1045.65px;width:17.95px;height:13.7px;background:#fb9500"></div>
<div style="left:697.9px;top:1045.65px;width:17.95px;height:13.7px;background:#ffffff"></div>
<div class="tk" style="left:599.8px;top:1052px;width:3.5px;height:1px"></div>
<div class="t rl" style="right:152.2px;top:1047.55px">Thalamus L</div>
<div style="left:608.1px;top:1059.3px;width:17.95px;height:13.7px;background:#fb9500"></div>
<div style="left:630.55px;top:1059.3px;width:17.95px;height:13.7px;background:#ffffff"></div>
<div style="left:653px;top:1059.3px;width:17.95px;height:13.7px;background:#fb9500"></div>
<div style="left:675.45px;top:1059.3px;width:17.95px;height:13.7px;background:#fb9500"></div>
<div style="left:697.9px;top:1059.3px;width:17.95px;height:13.7px;background:#ffffff"></div>
<div class="tk" style="left:599.8px;top:1066px;width:3.5px;height:1px"></div>
<div class="t rl" style="right:152.2px;top:1061.2px">Thalamus R</div>
<div style="left:608.1px;top:1072.95px;width:17.95px;height:13.7px;background:#fff4db"></div>
<div style="left:630.55px;top:1072.95px;width:17.95px;height:13.7px;background:#ffffff"></div>
<div style="left:653px;top:1072.95px;width:17.95px;height:13.7px;background:#ffffff"></div>
<div style="left:675.45px;top:1072.95px;width:17.95px;height:13.7px;background:#fff4db"></div>
<div style="left:697.9px;top:1072.95px;width:17.95px;height:13.7px;background:#ffffff"></div>
<div class="tk" style="left:599.8px;top:1079px;width:3.5px;height:1px"></div>
<div class="t rl" style="right:152.2px;top:1074.85px">Cereb 4 5 L</div>
<div class="tk" style="left:617px;top:1087.8px;width:1px;height:3px"></div>
<div class="t cl" style="left:597.27px;top:1093.27px;width:40px;text-align:center">GE</div>
<div class="tk" style="left:639px;top:1087.8px;width:1px;height:3px"></div>
<div class="t cl" style="left:619.73px;top:1093.27px;width:40px;text-align:center">LE</div>
<div class="tk" style="left:662px;top:1087.8px;width:1px;height:3px"></div>
<div class="t cl" style="left:642.17px;top:1093.27px;width:40px;text-align:center">D</div>
<div class="tk" style="left:684px;top:1087.8px;width:1px;height:3px"></div>
<div class="t cl" style="left:664.62px;top:1093.27px;width:40px;text-align:center">Srt</div>
<div class="tk" style="left:707px;top:1087.8px;width:1px;height:3px"></div>
<div class="t cl" style="left:687.07px;top:1093.27px;width:40px;text-align:center">CC</div>
<div class="t lt" style="left:337.6px;top:402.25px;width:80px;text-align:center">t values</div>
<div style="left:295.2px;top:428.7px;width:171.1px;height:19.1px;border:1.2px solid #5a5a5a;background:#fff"></div>
<div style="left:296.4px;top:429.9px;width:67.9px;height:16.7px;background:linear-gradient(to right,#a8f23e,#92e99a 58%,#22ef22)"></div>
<div style="left:398.2px;top:429.9px;width:66.9px;height:16.7px;background:linear-gradient(to right,#00c400,#005a00)"></div>
<div style="left:339px;top:429.9px;width:1px;height:16.7px;background:rgba(255,255,255,0.12)"></div>
<div style="left:339px;top:429.9px;width:1px;height:3.34px;background:#fff"></div>
<div style="left:339px;top:443.26px;width:1px;height:3.34px;background:#fff"></div>
<div style="left:432.4px;top:429.9px;width:1px;height:16.7px;background:rgba(255,255,255,0.12)"></div>
<div style="left:432.4px;top:429.9px;width:1px;height:3.34px;background:#fff"></div>
<div style="left:432.4px;top:443.26px;width:1px;height:3.34px;background:#fff"></div>
<div class="t" style="left:261.6px;top:451.03px;width:60px;text-align:center;font-size:13.2px;color:#000">&minus;7.0</div>
<div class="t" style="left:330.8px;top:451.03px;width:60px;text-align:center;font-size:13.2px;color:#000">&minus;2.0</div>
<div class="t" style="left:392.5px;top:451.03px;width:60px;text-align:center;font-size:13.2px;color:#000">2.0</div>
<div class="t" style="left:435.7px;top:451.03px;width:60px;text-align:center;font-size:13.2px;color:#000">7.0</div>
<div class="t lt" style="left:356.4px;top:1138.05px;width:80px;text-align:center">t values</div>
<div style="left:314.6px;top:1163.8px;width:170.6px;height:20px;border:1.2px solid #5a5a5a;background:#fff"></div>
<div style="left:315.8px;top:1165px;width:58.7px;height:17.6px;background:linear-gradient(to right,#ffb820,#ffe2a0 60%,#ffffff)"></div>
<div style="left:424px;top:1165px;width:60px;height:17.6px;background:linear-gradient(to right,#ff9c00,#e47000)"></div>
<div style="left:351.1px;top:1165px;width:1px;height:17.6px;background:rgba(255,255,255,0.12)"></div>
<div style="left:351.1px;top:1165px;width:1px;height:3.52px;background:#fff"></div>
<div style="left:351.1px;top:1179.08px;width:1px;height:3.52px;background:#fff"></div>
<div style="left:447.7px;top:1165px;width:1px;height:17.6px;background:rgba(255,255,255,0.12)"></div>
<div style="left:447.7px;top:1165px;width:1px;height:3.52px;background:#fff"></div>
<div style="left:447.7px;top:1179.08px;width:1px;height:3.52px;background:#fff"></div>
<div class="t" style="left:281.3px;top:1186.03px;width:60px;text-align:center;font-size:13.2px;color:#000">&minus;7.0</div>
<div class="t" style="left:349.6px;top:1186.03px;width:60px;text-align:center;font-size:13.2px;color:#000">&minus;2.0</div>
<div class="t" style="left:411.2px;top:1186.03px;width:60px;text-align:center;font-size:13.2px;color:#000">2.0</div>
<div class="t" style="left:455.3px;top:1186.03px;width:60px;text-align:center;font-size:13.2px;color:#000">7.0</div>
</div></body></html>
